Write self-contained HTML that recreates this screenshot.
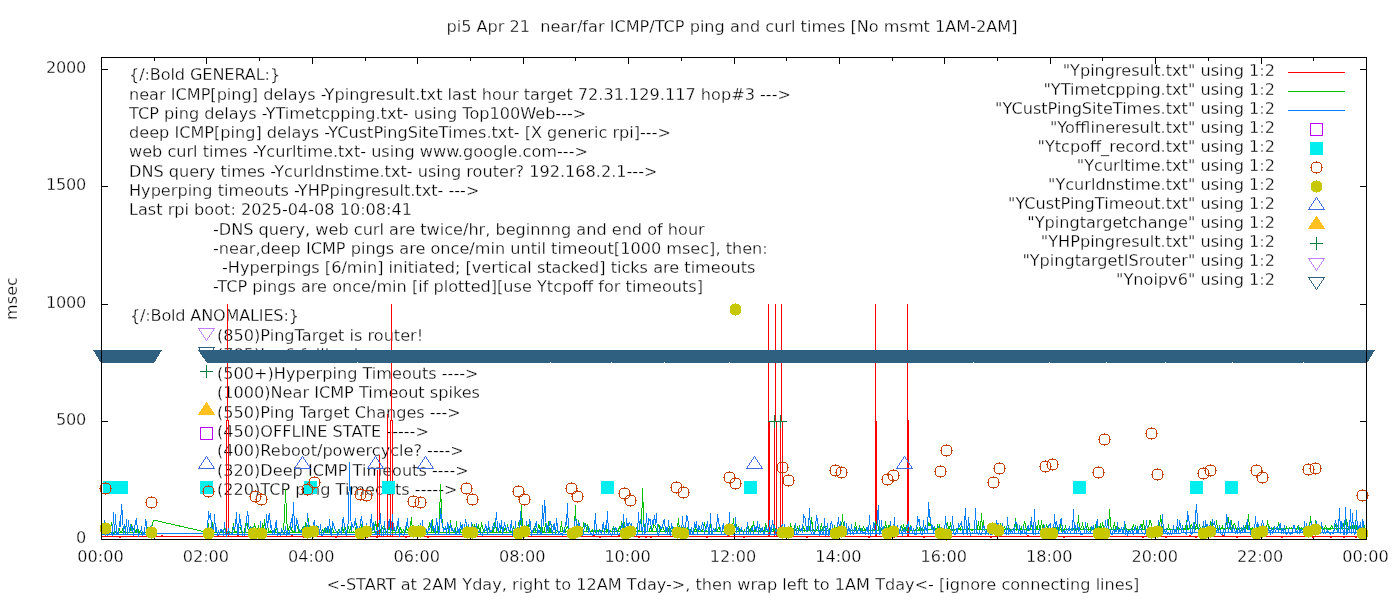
<!DOCTYPE html><html><head><meta charset="utf-8"><title>ping plot</title>
<style>html,body{margin:0;padding:0;background:#fff;overflow:hidden}svg{display:block}text{font-family:"DejaVu Sans","Liberation Sans",sans-serif;font-size:16.13px;fill:#000;stroke:#fff;stroke-width:0.3px}</style></head><body>
<svg width="1400" height="600" viewBox="0 0 1400 600">
<rect width="1400" height="600" fill="#fff"/>
<g id="labels">
<text x="129" y="80" letter-spacing="-0.11">{/:Bold GENERAL:}</text>
<text x="129" y="100">near ICMP[ping] delays -Ypingresult.txt last hour target 72.31.129.117 hop#3 ---&gt;</text>
<text x="129" y="119">TCP ping delays -YTimetcpping.txt- using Top100Web---&gt;</text>
<text x="129" y="138">deep ICMP[ping] delays -YCustPingSiteTimes.txt- [X generic rpi]---&gt;</text>
<text x="129" y="157">web curl times -Ycurltime.txt- using www.google.com---&gt;</text>
<text x="129" y="177">DNS query times -Ycurldnstime.txt- using router? 192.168.2.1---&gt;</text>
<text x="129" y="196">Hyperping timeouts -YHPpingresult.txt- ---&gt;</text>
<text x="129" y="215">Last rpi boot: 2025-04-08 10:08:41</text>
<text x="213" y="235">-DNS query, web curl are twice/hr, beginnng and end of hour</text>
<text x="213" y="254">-near,deep ICMP pings are once/min until timeout[1000 msec], then:</text>
<text x="222" y="273">-Hyperpings [6/min] initiated; [vertical stacked] ticks are timeouts</text>
<text x="213" y="292">-TCP pings are once/min [if plotted][use Ytcpoff for timeouts]</text>
<text x="130" y="321" letter-spacing="-0.19">{/:Bold ANOMALIES:}</text>
<text x="217" y="341">(850)PingTarget is router!</text>
<text x="217" y="360">(785)Ipv6 fallback</text>
<text x="217" y="379">(500+)Hyperping Timeouts ----&gt;</text>
<text x="217" y="398">(1000)Near ICMP Timeout spikes</text>
<text x="217" y="418">(550)Ping Target Changes ---&gt;</text>
<text x="217" y="437">(450)OFFLINE STATE -----&gt;</text>
<text x="217" y="456">(400)Reboot/powercycle? ----&gt;</text>
<text x="217" y="476">(320)Deep ICMP Timeouts ----&gt;</text>
<text x="217" y="495">(220)TCP ping Timeouts -----&gt;</text>
<g stroke-width="1" shape-rendering="crispEdges"><path d="M206.5 340.5L214.5 328.5L198.5 328.5Z" fill="none" stroke="#c080ff"/><path d="M206.5 359.5L214.5 347.5L198.5 347.5Z" fill="none" stroke="#306080"/><path d="M200.0 371.5h13M206.5 365.0v13" fill="none" stroke="#008040"/><path d="M206.5 402.5L214.5 414.5L198.5 414.5Z" fill="#ffc020" stroke="#ffc020"/><rect x="200.5" y="427.5" width="12" height="12" fill="none" stroke="#c000ff"/><path d="M206.5 456.5L214.5 468.5L198.5 468.5Z" fill="none" stroke="#4169e1"/><rect x="200.0" y="481.0" width="13" height="13" fill="#00eeee"/></g>
</g>
<text x="732" y="32" text-anchor="middle" xml:space="preserve">pi5 Apr 21  near/far ICMP/TCP ping and curl times [No msmt 1AM-2AM]</text>
<text x="733" y="590" text-anchor="middle">&lt;-START at 2AM Yday, right to 12AM Tday-&gt;, then wrap left to 1AM Tday&lt;- [ignore connecting lines]</text>
<text transform="translate(17,298.5) rotate(-90)" text-anchor="middle">msec</text>
<g stroke="#000" stroke-width="1" shape-rendering="crispEdges" fill="none">
<path d="M101 539.5h7M1367 539.5h-7"/>
<path d="M101 421.5h7M1367 421.5h-7"/>
<path d="M101 304.5h7M1367 304.5h-7"/>
<path d="M101 186.5h7M1367 186.5h-7"/>
<path d="M101 69.5h7M1367 69.5h-7"/>
<path d="M101.5 540v-7M101.5 57v7"/>
<path d="M154.5 540v-4M154.5 57v4"/>
<path d="M206.5 540v-7M206.5 57v7"/>
<path d="M259.5 540v-4M259.5 57v4"/>
<path d="M312.5 540v-7M312.5 57v7"/>
<path d="M365.5 540v-4M365.5 57v4"/>
<path d="M417.5 540v-7M417.5 57v7"/>
<path d="M470.5 540v-4M470.5 57v4"/>
<path d="M523.5 540v-7M523.5 57v7"/>
<path d="M575.5 540v-4M575.5 57v4"/>
<path d="M628.5 540v-7M628.5 57v7"/>
<path d="M681.5 540v-4M681.5 57v4"/>
<path d="M734.5 540v-7M734.5 57v7"/>
<path d="M786.5 540v-4M786.5 57v4"/>
<path d="M839.5 540v-7M839.5 57v7"/>
<path d="M892.5 540v-4M892.5 57v4"/>
<path d="M944.5 540v-7M944.5 57v7"/>
<path d="M997.5 540v-4M997.5 57v4"/>
<path d="M1050.5 540v-7M1050.5 57v7"/>
<path d="M1102.5 540v-4M1102.5 57v4"/>
<path d="M1155.5 540v-7M1155.5 57v7"/>
<path d="M1208.5 540v-4M1208.5 57v4"/>
<path d="M1261.5 540v-7M1261.5 57v7"/>
<path d="M1313.5 540v-4M1313.5 57v4"/>
<path d="M1366.5 540v-7M1366.5 57v7"/>
</g>
<text x="86" y="543" text-anchor="end" letter-spacing="-0.26">0</text>
<text x="86" y="425" text-anchor="end" letter-spacing="-0.26">500</text>
<text x="86" y="308" text-anchor="end" letter-spacing="-0.26">1000</text>
<text x="86" y="190" text-anchor="end" letter-spacing="-0.26">1500</text>
<text x="86" y="73" text-anchor="end" letter-spacing="-0.26">2000</text>
<text x="100.5" y="562" text-anchor="middle">00:00</text>
<text x="205.9" y="562" text-anchor="middle">02:00</text>
<text x="311.3" y="562" text-anchor="middle">04:00</text>
<text x="416.8" y="562" text-anchor="middle">06:00</text>
<text x="522.2" y="562" text-anchor="middle">08:00</text>
<text x="627.6" y="562" text-anchor="middle">10:00</text>
<text x="733.0" y="562" text-anchor="middle">12:00</text>
<text x="838.4" y="562" text-anchor="middle">14:00</text>
<text x="943.8" y="562" text-anchor="middle">16:00</text>
<text x="1049.2" y="562" text-anchor="middle">18:00</text>
<text x="1154.7" y="562" text-anchor="middle">20:00</text>
<text x="1260.1" y="562" text-anchor="middle">22:00</text>
<text x="1365.5" y="562" text-anchor="middle">00:00</text>
<g shape-rendering="crispEdges" fill="none" stroke-width="1">
<path d="M102 536.5H112H119v1h1v-1H138H143H161v-1h1v1H171H189H209v1h1v-1H217v-1h1v1H237v-1h1v1H262H270H291v-1h1v1H303v1h1v-1H319H335v1h1v-1H353H360H366v1h1v-1H376v1h1v-1H393H405v1h1v-1H427v1h1v-1H444H457H460H482H490H503H524H549H572H593v-1h1v1H599v1h1v-1H618v-1h1v1H635H638v1h1v-1H645v1h1v-1H650v1h1v-1H664H675H679v-1h1v1H686H690H706v1h1v-1H714H727v-1h1v1H743v1h1v-1H759H781H787H806v1h1v-1H832v1h1v-1H849H868v1h1v-1H872H893v1h1v-1H916H923v1h1v-1H937v1h1v-1H952H963H966H990v1h1v-1H1002H1014H1027v-1h1v1H1041H1063v1h1v-1H1070H1073H1097H1109H1132H1142v1h1v-1H1159H1165v1h1v-1H1179H1189v-1h1v1H1195v1h1v-1H1205H1222v-1h1v1H1227H1236v1h1v-1H1245H1258H1281v1h1v-1H1296H1312v1h1v-1H1330v1h1v-1H1343v1h1v-1H1348H1355v1h1v-1H1366" stroke="#ff0000"/>
<path d="M227.5 304V421M226.5 420V537M228.5 420V537M379.5 455V537M377.5 470V537M387.5 414V537M391.5 304V421M390.5 420V537M392.5 420V537M768.5 304V537M769.5 421V537M775.5 304V422M774.5 421V537M776.5 421V537M781.5 304V422M780.5 421V537M782.5 421V537M875.5 304V537M876.5 421V537M907.5 304V537M908.5 420V537" stroke="#ff0000"/>
<path d="M101.5 533.18L102.5 531.62L103.5 532.87L104.5 532.67L105.5 532.77L106.5 533.25L107.5 532.21L108.5 533.05L109.5 527.28L110.5 530L111.5 522.12L112.5 530.52L113.5 533.19L114.5 532.2L115.5 532.53L116.5 530.1L117.5 533.25L118.5 533.05L119.5 529.82L120.5 532.51L121.5 532.91L122.5 528.47L123.5 532.51L124.5 532.09L125.5 530.49L126.5 521.77L127.5 532.25L128.5 532.62L129.5 532.36L130.5 529.07L131.5 525.48L132.5 528.95L133.5 529.63L134.5 527.22L135.5 532.35L136.5 532.3L137.5 526.97L138.5 530.47L139.5 532.33L140.5 532.62L141.5 533.11L142.5 532.18L143.5 532.92L144.5 532.03L145.5 532.63L146.5 532.01L147.5 527.58L148.5 532.66L149.5 532L150.5 526.19L151.5 532.91L151.5 527.5L153.5 520.5L155.5 520.5L203.5 531.5L206.5 532.5L207.5 532.28L208.5 523.48L209.5 532.2L210.5 531.39L211.5 523.05L212.5 522.97L213.5 532.49L214.5 532.16L215.5 532.96L216.5 532.82L217.5 532.97L218.5 532.83L219.5 532.53L220.5 531.8L221.5 530.89L222.5 532.54L223.5 532.85L224.5 526.71L225.5 532.34L226.5 532.87L227.5 532.64L228.5 530.81L229.5 531.67L230.5 532.8L231.5 532.97L232.5 531.62L233.5 523.38L234.5 532.48L235.5 531.9L236.5 531.89L237.5 532.67L238.5 526.71L239.5 527.59L240.5 527.92L241.5 532.24L242.5 532.93L243.5 532.57L244.5 531.99L245.5 524.52L246.5 521.97L247.5 524.9L248.5 532.63L249.5 532.66L250.5 527.09L251.5 529.17L252.5 527.58L253.5 532.01L254.5 522.91L255.5 529.16L256.5 531.82L257.5 531.8L258.5 524.72L259.5 531.59L260.5 530.67L261.5 532.7L262.5 522.78L263.5 531.74L264.5 519.08L265.5 532.13L266.5 532.88L267.5 523.5L268.5 531.58L269.5 531.66L270.5 530.44L271.5 532.47L272.5 532.05L273.5 532.29L274.5 531.59L275.5 532.23L276.5 527L277.5 531.57L278.5 532.11L279.5 532.83L280.5 532.6L281.5 531.73L282.5 532.18L283.5 528.69L284.5 518.35L285.5 489.21L286.5 516L287.5 532.45L288.5 528.92L289.5 527.67L290.5 524.4L291.5 528.92L292.5 531.85L293.5 532.07L294.5 531.49L295.5 527.08L296.5 525.25L297.5 526.74L298.5 530.72L299.5 532.18L300.5 532.46L301.5 531.85L302.5 526.96L303.5 531.78L304.5 530.67L305.5 521.89L306.5 531.44L307.5 532.09L308.5 518.21L309.5 532.16L310.5 532.29L311.5 532.32L312.5 531.26L313.5 529.18L314.5 532.29L315.5 528.82L316.5 531.36L317.5 526.54L318.5 532.37L319.5 531.64L320.5 532.56L321.5 531.45L322.5 530.05L323.5 531.43L324.5 527.86L325.5 532.64L326.5 529.21L327.5 531.4L328.5 527.35L329.5 531.51L330.5 531.49L331.5 532.23L332.5 526.72L333.5 532.52L334.5 532.36L335.5 532.47L336.5 532.41L337.5 532.26L338.5 529.84L339.5 532.43L340.5 532.65L341.5 532.66L342.5 528.54L343.5 532L344.5 525.82L345.5 529.12L346.5 531.48L347.5 531.94L348.5 526.4L349.5 531.48L350.5 528.1L351.5 532.16L352.5 532.46L353.5 531.6L354.5 532.41L355.5 531.45L356.5 523.14L357.5 532.29L358.5 531.98L359.5 531.99L360.5 531.26L361.5 523.7L362.5 531.25L363.5 532.11L364.5 532.07L365.5 531.9L366.5 531.89L367.5 532.23L368.5 532.03L369.5 532.56L370.5 532.26L371.5 528.57L372.5 527.93L373.5 526.83L374.5 532.12L375.5 520.9L376.5 527.99L377.5 531.39L378.5 523.27L379.5 527.15L380.5 531.82L381.5 531.38L382.5 527.07L383.5 526.74L384.5 527.72L385.5 532.5L386.5 532.03L387.5 531.36L388.5 528.03L389.5 527.76L390.5 532.53L391.5 527.43L392.5 531.77L393.5 530.79L394.5 529.86L395.5 532.14L396.5 530.09L397.5 526.28L398.5 531.97L399.5 531.54L400.5 528.05L401.5 530.71L402.5 532.14L403.5 529.58L404.5 531.02L405.5 532.11L406.5 527.66L407.5 529.64L408.5 531.82L409.5 532.31L410.5 525.19L411.5 517.46L412.5 531.82L413.5 526.28L414.5 532.08L415.5 531.12L416.5 531.63L417.5 531.71L418.5 525.48L419.5 528.52L420.5 522.79L421.5 531.17L422.5 532.4L423.5 531.74L424.5 532L425.5 531.94L426.5 531.24L427.5 531.36L428.5 530.42L429.5 522.72L430.5 524.7L431.5 531.86L432.5 518.87L433.5 531.8L434.5 532.33L435.5 531.22L436.5 531.08L437.5 532.02L438.5 532.12L439.5 520.7L440.5 483.57L441.5 513.65L442.5 523.45L443.5 530.72L444.5 528.74L445.5 527.78L446.5 532.3L447.5 525.42L448.5 531.87L449.5 531.31L450.5 520.21L451.5 529.46L452.5 528.99L453.5 532.12L454.5 531.06L455.5 532.03L456.5 521.31L457.5 532.14L458.5 532.2L459.5 532.2L460.5 531.96L461.5 526.53L462.5 528.87L463.5 531.57L464.5 531.83L465.5 531.92L466.5 525.37L467.5 531.41L468.5 524.94L469.5 531.95L470.5 531.66L471.5 521.96L472.5 525.84L473.5 531.28L474.5 523.71L475.5 530.87L476.5 530.97L477.5 526.64L478.5 524.76L479.5 532.05L480.5 531.3L481.5 522.52L482.5 527.07L483.5 531.48L484.5 531.15L485.5 530.95L486.5 529.34L487.5 531.89L488.5 527.38L489.5 532.14L490.5 531.41L491.5 531.92L492.5 530.77L493.5 531.58L494.5 522.85L495.5 523.64L496.5 531.87L497.5 522.56L498.5 532.18L499.5 531.26L500.5 531.84L501.5 526.23L502.5 532.15L503.5 531.6L504.5 529.8L505.5 527.13L506.5 531.9L507.5 524.37L508.5 529.63L509.5 531.11L510.5 530.83L511.5 531.91L512.5 531.58L513.5 526.07L514.5 531.61L515.5 530.79L516.5 532.08L517.5 531.6L518.5 521.65L519.5 525.81L520.5 524.25L521.5 505.43L522.5 530.57L523.5 528.86L524.5 531.67L525.5 532.13L526.5 531.63L527.5 525.2L528.5 524.8L529.5 530.96L530.5 528.57L531.5 531.44L532.5 530.81L533.5 531.59L534.5 525.62L535.5 530.96L536.5 530.49L537.5 532.01L538.5 524.54L539.5 526.24L540.5 531.7L541.5 522.84L542.5 531.07L543.5 531.69L544.5 531.01L545.5 522.75L546.5 525.61L547.5 531.39L548.5 521.23L549.5 531.7L550.5 531.36L551.5 524.85L552.5 527L553.5 526.82L554.5 529.02L555.5 531.53L556.5 530.24L557.5 530.97L558.5 531.94L559.5 531.25L560.5 530.64L561.5 521.03L562.5 531.9L563.5 531.31L564.5 528.4L565.5 531.42L566.5 527.27L567.5 526.42L568.5 529.99L569.5 529.14L570.5 528.75L571.5 529.6L572.5 531.64L573.5 530.74L574.5 528.96L575.5 504.95L576.5 531.65L577.5 527.34L578.5 520.49L579.5 530.81L580.5 526.04L581.5 531.55L582.5 531.69L583.5 522.87L584.5 523.86L585.5 523.5L586.5 530.85L587.5 525.1L588.5 527.47L589.5 531.42L590.5 531.65L591.5 531.09L592.5 529.52L593.5 531.47L594.5 529.6L595.5 531.63L596.5 527.8L597.5 531.77L598.5 531.14L599.5 530.05L600.5 530.93L601.5 531.5L602.5 530.56L603.5 531.1L604.5 531.31L605.5 525.56L606.5 531.61L607.5 529.47L608.5 530.61L609.5 530.72L610.5 530.63L611.5 531.64L612.5 531.09L613.5 525.97L614.5 530.99L615.5 531.15L616.5 531.46L617.5 530.55L618.5 531.16L619.5 525.67L620.5 531.67L621.5 520.91L622.5 531.77L623.5 523.67L624.5 522.57L625.5 529.63L626.5 529.32L627.5 530.63L628.5 529.51L629.5 531.26L630.5 531.28L631.5 531.47L632.5 525.97L633.5 531.02L634.5 530.21L635.5 529.81L636.5 527.68L637.5 528.88L638.5 530.97L639.5 530.86L640.5 531.17L641.5 530.91L642.5 487.56L643.5 516L644.5 531.52L645.5 531.62L646.5 531.16L647.5 531.14L648.5 531.71L649.5 529.95L650.5 526.51L651.5 531.68L652.5 531.22L653.5 524.76L654.5 525.42L655.5 526.31L656.5 530.36L657.5 530.39L658.5 524.61L659.5 525.73L660.5 531.23L661.5 529.53L662.5 524.09L663.5 529.6L664.5 530.42L665.5 531.34L666.5 531.26L667.5 531.45L668.5 530.38L669.5 525.87L670.5 530.59L671.5 530.95L672.5 528.51L673.5 527.54L674.5 530.44L675.5 530.28L676.5 528.33L677.5 528.96L678.5 518.19L679.5 530.59L680.5 531.42L681.5 530.02L682.5 529L683.5 525.39L684.5 530.72L685.5 531.65L686.5 531.44L687.5 528.11L688.5 530.38L689.5 531.32L690.5 530.12L691.5 531.14L692.5 531.13L693.5 530.81L694.5 531.34L695.5 527.87L696.5 530.3L697.5 531.41L698.5 530.72L699.5 526.34L700.5 531.24L701.5 530.7L702.5 531.11L703.5 528L704.5 521.81L705.5 530.32L706.5 530.84L707.5 531.25L708.5 530.49L709.5 530.81L710.5 524.57L711.5 530.72L712.5 530.67L713.5 529.3L714.5 531.14L715.5 530.31L716.5 526.62L717.5 530.37L718.5 527.85L719.5 527.91L720.5 531.4L721.5 531.49L722.5 530.49L723.5 525.96L724.5 528.82L725.5 530.92L726.5 527.54L727.5 530.62L728.5 524.16L729.5 530.04L730.5 531.19L731.5 525.45L732.5 528.49L733.5 518.12L734.5 530.23L735.5 526.68L736.5 525.26L737.5 530.32L738.5 525.85L739.5 530.47L740.5 531.06L741.5 530.61L742.5 530.2L743.5 531.44L744.5 530.17L745.5 531.28L746.5 531.41L747.5 526.93L748.5 526.42L749.5 530.63L750.5 530.31L751.5 525.65L752.5 530.23L753.5 520.67L754.5 531.16L755.5 531.4L756.5 526.03L757.5 525.96L758.5 528.61L759.5 531.3L760.5 529.01L761.5 530.83L762.5 531.06L763.5 530.41L764.5 530.97L765.5 522.7L766.5 526.95L767.5 530.83L768.5 530.32L769.5 530.41L770.5 531.1L771.5 529.54L772.5 529.14L773.5 531.11L774.5 525.15L775.5 530.69L776.5 530.26L777.5 530.68L778.5 530.2L779.5 530.04L780.5 531.07L781.5 527.5L782.5 530.47L783.5 530.25L784.5 526.07L785.5 528.19L786.5 530.8L787.5 529.52L788.5 529.81L789.5 530.97L790.5 522.64L791.5 530.09L792.5 530.69L793.5 530.27L794.5 526.73L795.5 530.87L796.5 530.14L797.5 526.25L798.5 530.7L799.5 527.05L800.5 530.66L801.5 528.73L802.5 530.88L803.5 525.73L804.5 531.08L805.5 530.84L806.5 531.07L807.5 531.02L808.5 521.52L809.5 529.93L810.5 530.74L811.5 516.87L812.5 527.72L813.5 530.37L814.5 530.98L815.5 531.22L816.5 530.15L817.5 527.38L818.5 530.61L819.5 530.4L820.5 530.21L821.5 522.88L822.5 530.19L823.5 530.92L824.5 525.49L825.5 526.37L826.5 526.47L827.5 527.58L828.5 530.34L829.5 530.63L830.5 526.29L831.5 530.87L832.5 530.58L833.5 530.64L834.5 525.21L835.5 530.29L836.5 527.88L837.5 529.83L838.5 530.43L839.5 530.09L840.5 522.41L841.5 530.38L842.5 513.65L843.5 530.28L844.5 527.2L845.5 529.84L846.5 530.21L847.5 530.1L848.5 529.78L849.5 531.09L850.5 530.6L851.5 530.57L852.5 530.17L853.5 530.78L854.5 530.11L855.5 522.33L856.5 530.02L857.5 530.84L858.5 530.04L859.5 526.6L860.5 530.34L861.5 529.77L862.5 530.23L863.5 525.69L864.5 530.71L865.5 530.94L866.5 527.96L867.5 528.38L868.5 530.75L869.5 530.85L870.5 530.09L871.5 530.76L872.5 530.42L873.5 530.2L874.5 527.89L875.5 520.73L876.5 529.92L877.5 521.05L878.5 529.91L879.5 531.06L880.5 529.73L881.5 528.43L882.5 530.87L883.5 529.97L884.5 530.85L885.5 520.99L886.5 529.8L887.5 529.95L888.5 525.23L889.5 525.5L890.5 530.07L891.5 530L892.5 529.79L893.5 530.66L894.5 530.84L895.5 530.95L896.5 530.82L897.5 530.32L898.5 529.8L899.5 529.83L900.5 530.22L901.5 525.45L902.5 530.42L903.5 524.31L904.5 530.11L905.5 530.14L906.5 524.99L907.5 529.61L908.5 530.31L909.5 529.41L910.5 526.49L911.5 529.77L912.5 530.31L913.5 529.89L914.5 530.36L915.5 530.19L916.5 528.11L917.5 527.56L918.5 530.58L919.5 529.58L920.5 525.64L921.5 530.51L922.5 530.12L923.5 529.84L924.5 529.92L925.5 526.84L926.5 530.51L927.5 530.67L928.5 521.73L929.5 525.63L930.5 521.71L931.5 530.04L932.5 526.57L933.5 528.46L934.5 527.24L935.5 529L936.5 530.86L937.5 524.98L938.5 527.67L939.5 525.61L940.5 530.53L941.5 530.3L942.5 530.28L943.5 529.57L944.5 530.08L945.5 530.71L946.5 526.63L947.5 522.43L948.5 530.33L949.5 529.55L950.5 522.29L951.5 530.72L952.5 530.56L953.5 530.84L954.5 529.89L955.5 529.49L956.5 529.62L957.5 530.82L958.5 528.24L959.5 528.5L960.5 529.75L961.5 525.2L962.5 529L963.5 529.83L964.5 529.51L965.5 529.46L966.5 529.35L967.5 529.9L968.5 529.01L969.5 529.78L970.5 529.59L971.5 530.72L972.5 529.99L973.5 529.84L974.5 529.67L975.5 529.88L976.5 530.2L977.5 529.68L978.5 520.75L979.5 530.37L980.5 529.4L981.5 513.18L982.5 529.92L983.5 520.52L984.5 530.33L985.5 529.51L986.5 529.79L987.5 529.49L988.5 527.95L989.5 530.38L990.5 529.92L991.5 524.96L992.5 529.57L993.5 525.05L994.5 530.35L995.5 525.34L996.5 524.81L997.5 530.61L998.5 529.6L999.5 529.66L1000.5 523.27L1001.5 529.76L1002.5 530.42L1003.5 529.65L1004.5 527.03L1005.5 529.57L1006.5 528.14L1007.5 529.43L1008.5 526.71L1009.5 529.86L1010.5 530.42L1011.5 529.7L1012.5 529.89L1013.5 529.95L1014.5 530.61L1015.5 518.05L1016.5 529.78L1017.5 528.49L1018.5 530.18L1019.5 530.63L1020.5 529.26L1021.5 526.85L1022.5 530.28L1023.5 527.14L1024.5 520.7L1025.5 524.48L1026.5 530.59L1027.5 530.38L1028.5 530.56L1029.5 529.4L1030.5 529.29L1031.5 523.98L1032.5 530.06L1033.5 529.27L1034.5 529.82L1035.5 529.27L1036.5 527.26L1037.5 530.38L1038.5 519.6L1039.5 530.55L1040.5 530.1L1041.5 520L1042.5 528.95L1043.5 525.68L1044.5 529.2L1045.5 530.38L1046.5 524.54L1047.5 527.69L1048.5 529.51L1049.5 530.12L1050.5 530.39L1051.5 530.33L1052.5 530.36L1053.5 529.09L1054.5 528.18L1055.5 529.25L1056.5 529.23L1057.5 524.75L1058.5 529.91L1059.5 529.23L1060.5 526.03L1061.5 530.06L1062.5 526.77L1063.5 530.33L1064.5 530.45L1065.5 526.38L1066.5 529.29L1067.5 529.94L1068.5 530.13L1069.5 527.45L1070.5 529.82L1071.5 529.23L1072.5 529.12L1073.5 529.24L1074.5 528.05L1075.5 530.09L1076.5 530.21L1077.5 529.09L1078.5 515.53L1079.5 530.07L1080.5 528.79L1081.5 527.62L1082.5 524.05L1083.5 527.38L1084.5 530.47L1085.5 526.46L1086.5 529.85L1087.5 523.09L1088.5 530.26L1089.5 529.37L1090.5 528.07L1091.5 530.32L1092.5 529.75L1093.5 530.15L1094.5 529.44L1095.5 526.15L1096.5 530.34L1097.5 527.01L1098.5 528.74L1099.5 527.36L1100.5 524.74L1101.5 530.4L1102.5 521.83L1103.5 527.69L1104.5 529.24L1105.5 530.18L1106.5 529.56L1107.5 529.67L1108.5 529.67L1109.5 508.95L1110.5 524.71L1111.5 529.39L1112.5 529.33L1113.5 529.15L1114.5 521.71L1115.5 529.63L1116.5 530.34L1117.5 522.97L1118.5 530.22L1119.5 529.21L1120.5 530.23L1121.5 527.99L1122.5 529.51L1123.5 529.61L1124.5 528.43L1125.5 525.4L1126.5 530.17L1127.5 529.63L1128.5 530.17L1129.5 530.14L1130.5 529.12L1131.5 529.52L1132.5 528.1L1133.5 524.29L1134.5 529.73L1135.5 526.31L1136.5 528.99L1137.5 527.23L1138.5 529.84L1139.5 528.92L1140.5 524.39L1141.5 524.71L1142.5 529.57L1143.5 519.56L1144.5 529.69L1145.5 529.77L1146.5 530.19L1147.5 529.57L1148.5 530.08L1149.5 520.28L1150.5 520.95L1151.5 524.49L1152.5 528.69L1153.5 529.89L1154.5 527.5L1155.5 528.95L1156.5 529.9L1157.5 529.64L1158.5 522.55L1159.5 529.33L1160.5 515.53L1161.5 521.48L1162.5 529.58L1163.5 530.02L1164.5 530.05L1165.5 529.65L1166.5 529.88L1167.5 529.45L1168.5 525.8L1169.5 529.3L1170.5 529.21L1171.5 529.44L1172.5 529.55L1173.5 529.86L1174.5 529.48L1175.5 529.37L1176.5 529.7L1177.5 527.6L1178.5 529.5L1179.5 528.79L1180.5 529.09L1181.5 530.09L1182.5 526.6L1183.5 529.63L1184.5 529.13L1185.5 529.85L1186.5 520.35L1187.5 529.69L1188.5 529.21L1189.5 528.96L1190.5 526.19L1191.5 525.07L1192.5 526.39L1193.5 525.24L1194.5 523.2L1195.5 528.71L1196.5 525.83L1197.5 528.77L1198.5 529.54L1199.5 524.41L1200.5 529.59L1201.5 529.47L1202.5 527.26L1203.5 529.33L1204.5 529.66L1205.5 524.51L1206.5 529.48L1207.5 529.67L1208.5 529.29L1209.5 529.97L1210.5 522.23L1211.5 524.54L1212.5 522.78L1213.5 528.8L1214.5 530.01L1215.5 529.38L1216.5 520.1L1217.5 528.67L1218.5 529.34L1219.5 526.73L1220.5 529.23L1221.5 528.72L1222.5 526.06L1223.5 529.53L1224.5 529.26L1225.5 528.81L1226.5 521.41L1227.5 529.16L1228.5 517.54L1229.5 528.89L1230.5 529.59L1231.5 519.8L1232.5 529.87L1233.5 525.21L1234.5 523.73L1235.5 526.53L1236.5 529.61L1237.5 529.3L1238.5 529.75L1239.5 529.16L1240.5 528.6L1241.5 529.94L1242.5 528.89L1243.5 529.02L1244.5 529.56L1245.5 525.69L1246.5 527.61L1247.5 529.2L1248.5 514.36L1249.5 528.57L1250.5 529.4L1251.5 529.75L1252.5 528.03L1253.5 529.73L1254.5 528.8L1255.5 528.82L1256.5 529.94L1257.5 526.95L1258.5 526.79L1259.5 529.57L1260.5 528.67L1261.5 529.45L1262.5 529.4L1263.5 528.68L1264.5 528.58L1265.5 529.06L1266.5 529.87L1267.5 519.56L1268.5 528.65L1269.5 527.01L1270.5 528.56L1271.5 528.57L1272.5 529.36L1273.5 527.4L1274.5 528.67L1275.5 528.78L1276.5 529.65L1277.5 529.63L1278.5 522.18L1279.5 529.73L1280.5 529.34L1281.5 529.79L1282.5 528.72L1283.5 529.53L1284.5 529.47L1285.5 529.82L1286.5 526.77L1287.5 528.87L1288.5 529.48L1289.5 527.82L1290.5 528.68L1291.5 527.66L1292.5 528.83L1293.5 528.5L1294.5 528.5L1295.5 529.52L1296.5 529.65L1297.5 527.14L1298.5 525.52L1299.5 529.48L1300.5 529.53L1301.5 527.81L1302.5 529.06L1303.5 528.73L1304.5 528.89L1305.5 529.37L1306.5 529.69L1307.5 528.61L1308.5 528.87L1309.5 529.01L1310.5 516L1311.5 529.7L1312.5 529.47L1313.5 528.78L1314.5 529.22L1315.5 519.79L1316.5 524.12L1317.5 529.39L1318.5 528.81L1319.5 526.63L1320.5 528.84L1321.5 527.13L1322.5 526.61L1323.5 529.5L1324.5 528.47L1325.5 524.83L1326.5 529.69L1327.5 529.47L1328.5 529.21L1329.5 529.3L1330.5 529.48L1331.5 525.51L1332.5 527.06L1333.5 528.76L1334.5 529.72L1335.5 524.48L1336.5 529.66L1337.5 525.31L1338.5 529.37L1339.5 528.59L1340.5 528.42L1341.5 527.87L1342.5 526.35L1343.5 524.2L1344.5 529.57L1345.5 521.35L1346.5 520.09L1347.5 524.18L1348.5 529.05L1349.5 528.7L1350.5 528.96L1351.5 522.73L1352.5 528.05L1353.5 524.28L1354.5 528.9L1355.5 520.32L1356.5 529.31L1357.5 529.15L1358.5 529.37L1359.5 529.46L1360.5 524.93L1361.5 529.3L1362.5 529.01L1363.5 521.64L1364.5 528.39L1365.5 528.84L1366.5 528.48" stroke="#00c000"/>
<path d="M101 532.5H151M207 532.5H420L700 531.5L1000 529.5L1366 528.5" stroke="#00c000"/>
<path d="M101.5 528.2L102.5 534.8L103.5 530.52L104.5 519.69L105.5 535.59L106.5 532.49L107.5 535.61L108.5 534.72L109.5 533.21L110.5 530.45L111.5 532.78L112.5 536.17L113.5 512.34L114.5 534.67L115.5 513.83L116.5 535.15L117.5 532.6L118.5 534.01L119.5 521.16L120.5 526.81L121.5 504.25L122.5 516L123.5 534.54L124.5 523.94L125.5 534.82L126.5 518.9L127.5 534.51L128.5 520.37L129.5 532.62L130.5 523.74L131.5 529.78L132.5 527.6L133.5 536.08L134.5 529.17L135.5 520.65L136.5 518.74L137.5 530.17L138.5 535.52L139.5 533.42L140.5 532.77L141.5 526.51L142.5 536.06L143.5 532.55L144.5 534.01L145.5 519.44L146.5 522.87L147.5 534.74L148.5 530.76L149.5 530.62L150.5 527.62L151.5 524.95L152.5 535.2L153.5 531.32L153.5 533.5L206.5 533.5L207.5 530.37L208.5 510.93L209.5 518.39L210.5 513.24L211.5 525.7L212.5 529.21L213.5 534.84L214.5 514.34L215.5 531.6L216.5 527.06L217.5 535.64L218.5 530.45L219.5 534.64L220.5 529.41L221.5 529.81L222.5 530.84L223.5 535.65L224.5 521.78L225.5 534.2L226.5 535.82L227.5 531.96L228.5 529.61L229.5 534.81L230.5 534.93L231.5 533.28L232.5 533.33L233.5 527.2L234.5 528.36L235.5 525.23L236.5 512.38L237.5 534.25L238.5 532.56L239.5 513.65L240.5 525.04L241.5 525.67L242.5 535.21L243.5 534.74L244.5 535.36L245.5 530.58L246.5 521.16L247.5 511.54L248.5 519.16L249.5 534.41L250.5 527.95L251.5 527.47L252.5 535.2L253.5 526.52L254.5 533.53L255.5 533.09L256.5 527.64L257.5 534.02L258.5 531.89L259.5 535.03L260.5 521.46L261.5 535.93L262.5 534.28L263.5 534.8L264.5 534.51L265.5 532.73L266.5 513.65L267.5 527.58L268.5 517.99L269.5 513.18L270.5 527.07L271.5 525.8L272.5 534.23L273.5 530.8L274.5 532.61L275.5 522.94L276.5 521.2L277.5 535.25L278.5 534.06L279.5 533.49L280.5 535.18L281.5 529.35L282.5 531.08L283.5 534.71L284.5 533.66L285.5 526.17L286.5 535.63L287.5 531.7L288.5 534.87L289.5 534.73L290.5 526.39L291.5 517.8L292.5 527.83L293.5 501.9L294.5 528.89L295.5 531.62L296.5 519.08L297.5 520.6L298.5 527.88L299.5 529.85L300.5 531.08L301.5 530.65L302.5 535.2L303.5 526.13L304.5 530.95L305.5 535.41L306.5 532.74L307.5 512.95L308.5 530.33L309.5 531.44L310.5 535.76L311.5 531.39L312.5 529.51L313.5 523.3L314.5 521.36L315.5 535.51L316.5 526.12L317.5 527.77L318.5 527.04L319.5 534.86L320.5 523.81L321.5 535.83L322.5 535.31L323.5 532.07L324.5 532.21L325.5 527.06L326.5 532.24L327.5 526.29L328.5 533.14L329.5 519.01L330.5 532.69L331.5 534.73L332.5 520.88L333.5 524.3L334.5 527.94L335.5 530.6L336.5 531.13L337.5 534.98L338.5 534.53L339.5 529.91L340.5 531.75L341.5 533.63L342.5 521.47L343.5 517.54L344.5 528.12L345.5 533.01L346.5 535.54L347.5 525.26L348.5 522.59L349.5 461.72L350.5 511.3L351.5 531.16L352.5 523.91L353.5 527.8L354.5 523.49L355.5 518.15L356.5 531.56L357.5 526.42L358.5 535.81L359.5 528.63L360.5 523.06L361.5 516.14L362.5 525.23L363.5 535.54L364.5 534.76L365.5 532.29L366.5 523.02L367.5 535.44L368.5 526.55L369.5 535.75L370.5 524L371.5 513.96L372.5 531.02L373.5 522.26L374.5 526.68L375.5 534.25L376.5 534.44L377.5 526.98L378.5 534.61L379.5 526.55L380.5 512.92L381.5 535.26L382.5 534.87L383.5 535.36L384.5 520.78L385.5 533.68L386.5 534.58L387.5 533.96L388.5 523.78L389.5 519.34L390.5 535.08L391.5 526.75L392.5 514.36L393.5 530.15L394.5 526.81L395.5 533.9L396.5 527.61L397.5 524.44L398.5 517.95L399.5 535.72L400.5 533.7L401.5 533.84L402.5 534.21L403.5 535.4L404.5 532.94L405.5 526.52L406.5 526.8L407.5 517.63L408.5 534.08L409.5 533.34L410.5 531.84L411.5 532.82L412.5 533.65L413.5 526.82L414.5 534.71L415.5 534.84L416.5 534.29L417.5 534.18L418.5 532.75L419.5 529.77L420.5 523.07L421.5 533.69L422.5 520.02L423.5 535.36L424.5 535.58L425.5 534.65L426.5 529.3L427.5 533.53L428.5 528.54L429.5 529.35L430.5 525.99L431.5 520.11L432.5 531.13L433.5 526.06L434.5 530.61L435.5 532.49L436.5 517.81L437.5 526.41L438.5 534.42L439.5 531.73L440.5 508.01L441.5 519.57L442.5 525.44L443.5 531.07L444.5 529.33L445.5 526.05L446.5 534.12L447.5 521.75L448.5 525.87L449.5 534.36L450.5 522.79L451.5 530.52L452.5 528.82L453.5 531.07L454.5 529.36L455.5 534.39L456.5 533.76L457.5 527.97L458.5 529.87L459.5 535.38L460.5 521.58L461.5 529.47L462.5 523.9L463.5 533.93L464.5 528.59L465.5 518.66L466.5 525.45L467.5 527.1L468.5 524.81L469.5 535.13L470.5 534.91L471.5 521.62L472.5 532.86L473.5 525.81L474.5 530.06L475.5 527.35L476.5 524.59L477.5 530.69L478.5 531.69L479.5 530.9L480.5 533.39L481.5 534.44L482.5 535.27L483.5 531.4L484.5 531.65L485.5 525.04L486.5 526.86L487.5 534.74L488.5 520.83L489.5 533.18L490.5 530.67L491.5 531.23L492.5 528.49L493.5 522.94L494.5 529.02L495.5 524.22L496.5 512.07L497.5 528.34L498.5 532.96L499.5 522.72L500.5 529.65L501.5 519.7L502.5 534.36L503.5 529.91L504.5 522.43L505.5 526.59L506.5 529.68L507.5 527.1L508.5 527.75L509.5 533.17L510.5 529.19L511.5 519.58L512.5 535.13L513.5 533.87L514.5 535.41L515.5 521.22L516.5 534.15L517.5 529.73L518.5 534.13L519.5 528.95L520.5 511.2L521.5 524.55L522.5 529.45L523.5 533.49L524.5 535.03L525.5 531.49L526.5 521.27L527.5 530.2L528.5 534.93L529.5 519.3L530.5 523.65L531.5 535.46L532.5 530.56L533.5 529.66L534.5 530.62L535.5 524.09L536.5 521.25L537.5 534.9L538.5 530.27L539.5 530.93L540.5 533.87L541.5 534.05L542.5 505.43L543.5 526.19L544.5 500.49L545.5 511.3L546.5 533.05L547.5 525.11L548.5 532.04L549.5 521.22L550.5 521.73L551.5 528.21L552.5 535.09L553.5 524.54L554.5 524.06L555.5 535.33L556.5 518.17L557.5 528.33L558.5 533.61L559.5 532.22L560.5 534.06L561.5 533.76L562.5 535.03L563.5 530.95L564.5 532.22L565.5 523.16L566.5 524.52L567.5 503.07L568.5 533.15L569.5 528.48L570.5 534.36L571.5 534.53L572.5 530.1L573.5 532.52L574.5 524.77L575.5 517.95L576.5 521.63L577.5 534.77L578.5 521.87L579.5 525.01L580.5 526.78L581.5 529.25L582.5 535.2L583.5 533.6L584.5 523.98L585.5 525.49L586.5 525.99L587.5 526.17L588.5 532.99L589.5 529.94L590.5 533.91L591.5 533.82L592.5 535.33L593.5 532.64L594.5 527.37L595.5 512.95L596.5 534.39L597.5 534.1L598.5 534.25L599.5 530.51L600.5 532.11L601.5 533.48L602.5 526.96L603.5 522.1L604.5 535.26L605.5 524.88L606.5 529.29L607.5 510.6L608.5 534.32L609.5 530.57L610.5 534.6L611.5 535.18L612.5 533.61L613.5 526.61L614.5 533.45L615.5 527.36L616.5 528.13L617.5 533.86L618.5 534.88L619.5 534.61L620.5 531.13L621.5 525.16L622.5 531.56L623.5 514.12L624.5 532.85L625.5 534.16L626.5 517.99L627.5 528.12L628.5 523.25L629.5 522.35L630.5 525.73L631.5 522.73L632.5 532.65L633.5 533.87L634.5 532.17L635.5 532.25L636.5 534.95L637.5 533.35L638.5 512.51L639.5 529.58L640.5 519.09L641.5 528.54L642.5 534.08L643.5 520.01L644.5 533.89L645.5 532.08L646.5 513.49L647.5 532.28L648.5 518.93L649.5 520.35L650.5 519.94L651.5 530.04L652.5 520.08L653.5 523.65L654.5 514.61L655.5 525L656.5 512.76L657.5 533.61L658.5 534.96L659.5 531.51L660.5 526.54L661.5 528L662.5 527.46L663.5 520.89L664.5 519.85L665.5 532.61L666.5 527.07L667.5 534.11L668.5 520.12L669.5 534.33L670.5 535.13L671.5 522.84L672.5 529.87L673.5 534.91L674.5 527.02L675.5 531.09L676.5 534.78L677.5 529.99L678.5 527.3L679.5 533.91L680.5 533.61L681.5 534.77L682.5 516.12L683.5 533.46L684.5 526.67L685.5 529.56L686.5 515.13L687.5 517.4L688.5 524.74L689.5 533.22L690.5 533.34L691.5 527.3L692.5 534.59L693.5 534.16L694.5 522.26L695.5 526.43L696.5 521.19L697.5 534L698.5 526.22L699.5 528.38L700.5 530.46L701.5 528.27L702.5 522.41L703.5 526.09L704.5 533.55L705.5 529.14L706.5 527.73L707.5 520.81L708.5 532.94L709.5 535.02L710.5 512.69L711.5 534.06L712.5 532.85L713.5 527.77L714.5 531.15L715.5 531.07L716.5 530.13L717.5 514.46L718.5 521.24L719.5 526.21L720.5 528.18L721.5 534.95L722.5 527.2L723.5 523.54L724.5 534.19L725.5 524.83L726.5 531.94L727.5 535.17L728.5 534.47L729.5 512.44L730.5 534.62L731.5 524.6L732.5 534.35L733.5 534.72L734.5 530.38L735.5 517.28L736.5 533.34L737.5 527.14L738.5 527.56L739.5 534.94L740.5 529.77L741.5 528.34L742.5 531.17L743.5 533.32L744.5 531.07L745.5 531.28L746.5 532.84L747.5 522.14L748.5 533.26L749.5 534.73L750.5 534.09L751.5 528.29L752.5 527.36L753.5 534.59L754.5 526.23L755.5 528.19L756.5 530.31L757.5 521.01L758.5 534.4L759.5 523.66L760.5 533.39L761.5 529.41L762.5 526.71L763.5 534.51L764.5 534.35L765.5 527.06L766.5 529.01L767.5 529.04L768.5 533.43L769.5 520.44L770.5 533.8L771.5 529.56L772.5 520.06L773.5 527.29L774.5 526.88L775.5 533.72L776.5 528.77L777.5 535.06L778.5 527.27L779.5 534.75L780.5 535L781.5 526.21L782.5 523.67L783.5 532.57L784.5 523.91L785.5 533.86L786.5 534.61L787.5 534.25L788.5 527.4L789.5 533.44L790.5 534.71L791.5 530.68L792.5 533.98L793.5 533.5L794.5 533.4L795.5 522.57L796.5 533.53L797.5 534.11L798.5 532.62L799.5 527.99L800.5 530.26L801.5 528.94L802.5 533.33L803.5 514.43L804.5 517.5L805.5 519.17L806.5 532.11L807.5 528.29L808.5 529.88L809.5 507.54L810.5 531.07L811.5 533.6L812.5 529.99L813.5 533.66L814.5 534.59L815.5 528.16L816.5 514.95L817.5 520.23L818.5 528.04L819.5 534.71L820.5 533.32L821.5 528.66L822.5 534.39L823.5 533.8L824.5 517.84L825.5 534.76L826.5 533.23L827.5 523.23L828.5 534.9L829.5 533.48L830.5 526.17L831.5 521.12L832.5 527.34L833.5 534.89L834.5 529.5L835.5 534.59L836.5 533.2L837.5 526.49L838.5 517.15L839.5 530.36L840.5 520.88L841.5 535.08L842.5 533.87L843.5 535.09L844.5 521.25L845.5 532.69L846.5 522.82L847.5 534.42L848.5 526.92L849.5 528.6L850.5 534.58L851.5 523.78L852.5 533.84L853.5 534.67L854.5 528.98L855.5 528.15L856.5 532.51L857.5 532.6L858.5 530.24L859.5 528.1L860.5 533.71L861.5 529.75L862.5 533.16L863.5 532.53L864.5 532.99L865.5 534.24L866.5 527.34L867.5 527.9L868.5 534.87L869.5 515.12L870.5 534.96L871.5 533.1L872.5 533.64L873.5 522.23L874.5 524.52L875.5 535.02L876.5 532.24L877.5 515.68L878.5 505.43L879.5 533.97L880.5 533.39L881.5 520.52L882.5 533.25L883.5 527.34L884.5 528.71L885.5 527.48L886.5 534.93L887.5 530.94L888.5 535.02L889.5 532.76L890.5 521.15L891.5 532.09L892.5 531.51L893.5 532.17L894.5 516.65L895.5 534.83L896.5 527.12L897.5 525.48L898.5 534.39L899.5 531.9L900.5 526.24L901.5 532.86L902.5 534.78L903.5 528.82L904.5 529.8L905.5 533.72L906.5 526.65L907.5 527.47L908.5 520.97L909.5 532.69L910.5 527.1L911.5 526.91L912.5 533.01L913.5 528.07L914.5 534.37L915.5 534.31L916.5 534.06L917.5 515.96L918.5 521.41L919.5 519.99L920.5 531.01L921.5 534.12L922.5 534.5L923.5 520.43L924.5 533.36L925.5 526.81L926.5 529.24L927.5 533.24L928.5 501.9L929.5 516L930.5 518.95L931.5 528.43L932.5 526.47L933.5 533.04L934.5 526.26L935.5 534.52L936.5 533.05L937.5 534.42L938.5 526.11L939.5 534.04L940.5 528.14L941.5 527.71L942.5 534.42L943.5 533.5L944.5 534.41L945.5 515.99L946.5 528.37L947.5 528.1L948.5 534.82L949.5 534.92L950.5 534.65L951.5 533.9L952.5 515.7L953.5 533.32L954.5 534.73L955.5 534.08L956.5 529.79L957.5 532.18L958.5 523.91L959.5 525.82L960.5 524.62L961.5 521.1L962.5 530.92L963.5 534.53L964.5 525.03L965.5 508.01L966.5 531.58L967.5 534.72L968.5 517.54L969.5 528.92L970.5 534.78L971.5 533.11L972.5 532.88L973.5 533.39L974.5 533.25L975.5 507.54L976.5 532.03L977.5 533.22L978.5 534.1L979.5 531.26L980.5 534.44L981.5 534.13L982.5 529.57L983.5 525.66L984.5 527.08L985.5 534.83L986.5 531.99L987.5 527.93L988.5 534.64L989.5 531.59L990.5 533.96L991.5 534.74L992.5 533.89L993.5 522.56L994.5 534.41L995.5 528.93L996.5 520.07L997.5 525.28L998.5 522.74L999.5 534.51L1000.5 524.65L1001.5 534.31L1002.5 523.12L1003.5 532.25L1004.5 530.59L1005.5 533.46L1006.5 534.61L1007.5 516.88L1008.5 534.84L1009.5 529.24L1010.5 533.86L1011.5 529.08L1012.5 533.8L1013.5 528.3L1014.5 533.15L1015.5 521.4L1016.5 523.67L1017.5 524.81L1018.5 533.58L1019.5 525.41L1020.5 534.77L1021.5 531.77L1022.5 533.26L1023.5 526.32L1024.5 533.4L1025.5 532.83L1026.5 533.83L1027.5 526.26L1028.5 525.96L1029.5 531.24L1030.5 524.67L1031.5 517L1032.5 532.79L1033.5 533.96L1034.5 509.19L1035.5 534.03L1036.5 533.07L1037.5 533.53L1038.5 533.86L1039.5 527.85L1040.5 534.31L1041.5 532.78L1042.5 534.52L1043.5 528.73L1044.5 525.53L1045.5 534.45L1046.5 529.61L1047.5 532.93L1048.5 526.83L1049.5 524.23L1050.5 523.38L1051.5 532.86L1052.5 534.76L1053.5 534.18L1054.5 514.44L1055.5 529.07L1056.5 520.93L1057.5 529.18L1058.5 534.27L1059.5 528.68L1060.5 520.36L1061.5 518.57L1062.5 532.88L1063.5 531.43L1064.5 530.92L1065.5 534L1066.5 528.04L1067.5 533.21L1068.5 529.44L1069.5 527.21L1070.5 533.76L1071.5 527.82L1072.5 531.42L1073.5 509.42L1074.5 533.85L1075.5 524.57L1076.5 532.73L1077.5 524.41L1078.5 530.19L1079.5 527.42L1080.5 534.28L1081.5 534.19L1082.5 534.46L1083.5 533.86L1084.5 533.52L1085.5 522.29L1086.5 533.26L1087.5 531.43L1088.5 532.51L1089.5 531.53L1090.5 532.7L1091.5 526.93L1092.5 528.3L1093.5 526.04L1094.5 533.11L1095.5 534.19L1096.5 522.13L1097.5 520.45L1098.5 531.26L1099.5 533.6L1100.5 530.75L1101.5 534.71L1102.5 533.25L1103.5 534.23L1104.5 533.22L1105.5 519.56L1106.5 532.74L1107.5 518.77L1108.5 533.61L1109.5 533.83L1110.5 530.83L1111.5 534.53L1112.5 534.51L1113.5 527.84L1114.5 533.03L1115.5 530.26L1116.5 531.3L1117.5 522.35L1118.5 534.37L1119.5 529.96L1120.5 531.02L1121.5 527.11L1122.5 533.45L1123.5 533.19L1124.5 520.92L1125.5 534.49L1126.5 528.72L1127.5 534.28L1128.5 531.83L1129.5 530.93L1130.5 533.79L1131.5 527.63L1132.5 533.15L1133.5 534.06L1134.5 527.85L1135.5 526.41L1136.5 534.01L1137.5 530.78L1138.5 534.19L1139.5 526.92L1140.5 526.02L1141.5 530.44L1142.5 533.14L1143.5 533.37L1144.5 534.56L1145.5 531.51L1146.5 520.37L1147.5 531.19L1148.5 533.58L1149.5 530.06L1150.5 528.93L1151.5 531.81L1152.5 533.83L1153.5 530.81L1154.5 531.02L1155.5 533.63L1156.5 527.28L1157.5 533.7L1158.5 520L1159.5 531.81L1160.5 528.18L1161.5 534.56L1162.5 514.04L1163.5 533.65L1164.5 530.47L1165.5 533.04L1166.5 529.53L1167.5 533.79L1168.5 532.59L1169.5 534.01L1170.5 531.59L1171.5 534.47L1172.5 533.49L1173.5 524.65L1174.5 533L1175.5 530.2L1176.5 534.1L1177.5 518.86L1178.5 533.04L1179.5 520.15L1180.5 525.97L1181.5 530.52L1182.5 527.61L1183.5 531.6L1184.5 532.57L1185.5 532.88L1186.5 534.07L1187.5 510.6L1188.5 518.65L1189.5 523.7L1190.5 533.02L1191.5 534.19L1192.5 532.85L1193.5 522.14L1194.5 532.97L1195.5 516L1196.5 504.49L1197.5 520.65L1198.5 533.81L1199.5 533.83L1200.5 534.34L1201.5 532.65L1202.5 533.23L1203.5 521.03L1204.5 532.63L1205.5 519.59L1206.5 527.31L1207.5 524.09L1208.5 529.86L1209.5 524.82L1210.5 530.15L1211.5 523.52L1212.5 520.45L1213.5 524.78L1214.5 521.08L1215.5 527.99L1216.5 532.71L1217.5 529.33L1218.5 532.89L1219.5 526.51L1220.5 533.83L1221.5 534.33L1222.5 534.49L1223.5 530.88L1224.5 534.4L1225.5 531.07L1226.5 514.36L1227.5 519.78L1228.5 533.2L1229.5 522.73L1230.5 521.12L1231.5 532.68L1232.5 531.69L1233.5 526.76L1234.5 529.11L1235.5 532.66L1236.5 530.99L1237.5 533.75L1238.5 521.34L1239.5 532.58L1240.5 533.27L1241.5 527.51L1242.5 531.77L1243.5 526.81L1244.5 529.97L1245.5 532.93L1246.5 524.24L1247.5 519.51L1248.5 529.8L1249.5 526.05L1250.5 533.86L1251.5 532.95L1252.5 533.34L1253.5 527.83L1254.5 532.47L1255.5 516.03L1256.5 531.13L1257.5 522.19L1258.5 526.46L1259.5 532.53L1260.5 534.44L1261.5 526.25L1262.5 519.72L1263.5 526.01L1264.5 531.39L1265.5 526.89L1266.5 528.26L1267.5 533.89L1268.5 528.86L1269.5 531.73L1270.5 533.75L1271.5 527.26L1272.5 533.93L1273.5 531.16L1274.5 526.19L1275.5 533.23L1276.5 527.24L1277.5 527.5L1278.5 532.69L1279.5 525.21L1280.5 522.82L1281.5 534.31L1282.5 527.72L1283.5 533.48L1284.5 525.54L1285.5 532.83L1286.5 534.03L1287.5 533.58L1288.5 530.26L1289.5 533.98L1290.5 534.03L1291.5 533.37L1292.5 533.43L1293.5 525.69L1294.5 525.88L1295.5 530.97L1296.5 531.33L1297.5 534.28L1298.5 525.73L1299.5 533.68L1300.5 529.91L1301.5 529.64L1302.5 532.6L1303.5 532.26L1304.5 521.04L1305.5 533.09L1306.5 523.04L1307.5 530.27L1308.5 527.78L1309.5 525.83L1310.5 533.64L1311.5 520.65L1312.5 527.68L1313.5 532.41L1314.5 529.55L1315.5 534.16L1316.5 520.58L1317.5 533.72L1318.5 528.91L1319.5 532.51L1320.5 533.27L1321.5 521.56L1322.5 530.01L1323.5 533.11L1324.5 530.5L1325.5 533.57L1326.5 532.46L1327.5 530.39L1328.5 532.65L1329.5 532.93L1330.5 533.97L1331.5 532.68L1332.5 533.9L1333.5 533.82L1334.5 527.35L1335.5 519.66L1336.5 525.98L1337.5 532.42L1338.5 530.94L1339.5 507.77L1340.5 534.17L1341.5 520.83L1342.5 525.59L1343.5 534.25L1344.5 534.32L1345.5 506.6L1346.5 534.02L1347.5 533.07L1348.5 525.63L1349.5 532.28L1350.5 508.95L1351.5 533.86L1352.5 513.23L1353.5 531.04L1354.5 534.03L1355.5 532.79L1356.5 510.12L1357.5 532L1358.5 526.84L1359.5 529.15L1360.5 521.74L1361.5 533.5L1362.5 520.15L1363.5 521.98L1364.5 533.96L1365.5 532.87L1366.5 532.63" stroke="#0080ff"/>
<path d="M101 534.5H151M207 534.5H700L1000 533.5L1366 532.5" stroke="#0080ff"/>
</g>
<g stroke-width="1" shape-rendering="crispEdges">
<rect x="103.0" y="481.0" width="13" height="13" fill="#00eeee"/>
<rect x="115.0" y="481.0" width="13" height="13" fill="#00eeee"/>
<rect x="304.0" y="481.0" width="13" height="13" fill="#00eeee"/>
<rect x="382.0" y="481.0" width="13" height="13" fill="#00eeee"/>
<rect x="601.0" y="481.0" width="13" height="13" fill="#00eeee"/>
<rect x="744.0" y="481.0" width="13" height="13" fill="#00eeee"/>
<rect x="1073.0" y="481.0" width="13" height="13" fill="#00eeee"/>
<rect x="1190.0" y="481.0" width="13" height="13" fill="#00eeee"/>
<rect x="1225.0" y="481.0" width="13" height="13" fill="#00eeee"/>
</g><g stroke-width="1" shape-rendering="crispEdges">
<path d="M105 482h1v1h-1zM102 483h7v1h-7zM101 484h1v1h-1zM109 484h1v1h-1zM100 485h1v1h-1zM110 485h1v1h-1zM100 486h1v1h-1zM110 486h1v1h-1zM100 487h1v1h-1zM110 487h1v1h-1zM99 488h2v1h-2zM110 488h2v1h-2zM100 489h1v1h-1zM110 489h1v1h-1zM100 490h1v1h-1zM110 490h1v1h-1zM100 491h1v1h-1zM110 491h1v1h-1zM101 492h1v1h-1zM109 492h1v1h-1zM102 493h7v1h-7zM105 494h1v1h-1z" fill="#c04000" stroke="none"/>
<path d="M151 496h1v1h-1zM148 497h7v1h-7zM147 498h1v1h-1zM155 498h1v1h-1zM146 499h1v1h-1zM156 499h1v1h-1zM146 500h1v1h-1zM156 500h1v1h-1zM146 501h1v1h-1zM156 501h1v1h-1zM145 502h2v1h-2zM156 502h2v1h-2zM146 503h1v1h-1zM156 503h1v1h-1zM146 504h1v1h-1zM156 504h1v1h-1zM146 505h1v1h-1zM156 505h1v1h-1zM147 506h1v1h-1zM155 506h1v1h-1zM148 507h7v1h-7zM151 508h1v1h-1z" fill="#c04000" stroke="none"/>
<path d="M208 485h1v1h-1zM205 486h7v1h-7zM204 487h1v1h-1zM212 487h1v1h-1zM203 488h1v1h-1zM213 488h1v1h-1zM203 489h1v1h-1zM213 489h1v1h-1zM203 490h1v1h-1zM213 490h1v1h-1zM202 491h2v1h-2zM213 491h2v1h-2zM203 492h1v1h-1zM213 492h1v1h-1zM203 493h1v1h-1zM213 493h1v1h-1zM203 494h1v1h-1zM213 494h1v1h-1zM204 495h1v1h-1zM212 495h1v1h-1zM205 496h7v1h-7zM208 497h1v1h-1z" fill="#c04000" stroke="none"/>
<path d="M255 490h1v1h-1zM252 491h7v1h-7zM251 492h1v1h-1zM259 492h1v1h-1zM250 493h1v1h-1zM260 493h1v1h-1zM250 494h1v1h-1zM260 494h1v1h-1zM250 495h1v1h-1zM260 495h1v1h-1zM249 496h2v1h-2zM260 496h2v1h-2zM250 497h1v1h-1zM260 497h1v1h-1zM250 498h1v1h-1zM260 498h1v1h-1zM250 499h1v1h-1zM260 499h1v1h-1zM251 500h1v1h-1zM259 500h1v1h-1zM252 501h7v1h-7zM255 502h1v1h-1z" fill="#c04000" stroke="none"/>
<path d="M261 493h1v1h-1zM258 494h7v1h-7zM257 495h1v1h-1zM265 495h1v1h-1zM256 496h1v1h-1zM266 496h1v1h-1zM256 497h1v1h-1zM266 497h1v1h-1zM256 498h1v1h-1zM266 498h1v1h-1zM255 499h2v1h-2zM266 499h2v1h-2zM256 500h1v1h-1zM266 500h1v1h-1zM256 501h1v1h-1zM266 501h1v1h-1zM256 502h1v1h-1zM266 502h1v1h-1zM257 503h1v1h-1zM265 503h1v1h-1zM258 504h7v1h-7zM261 505h1v1h-1z" fill="#c04000" stroke="none"/>
<path d="M307 483h1v1h-1zM304 484h7v1h-7zM303 485h1v1h-1zM311 485h1v1h-1zM302 486h1v1h-1zM312 486h1v1h-1zM302 487h1v1h-1zM312 487h1v1h-1zM302 488h1v1h-1zM312 488h1v1h-1zM301 489h2v1h-2zM312 489h2v1h-2zM302 490h1v1h-1zM312 490h1v1h-1zM302 491h1v1h-1zM312 491h1v1h-1zM302 492h1v1h-1zM312 492h1v1h-1zM303 493h1v1h-1zM311 493h1v1h-1zM304 494h7v1h-7zM307 495h1v1h-1z" fill="#c04000" stroke="none"/>
<path d="M314 476h1v1h-1zM311 477h7v1h-7zM310 478h1v1h-1zM318 478h1v1h-1zM309 479h1v1h-1zM319 479h1v1h-1zM309 480h1v1h-1zM319 480h1v1h-1zM309 481h1v1h-1zM319 481h1v1h-1zM308 482h2v1h-2zM319 482h2v1h-2zM309 483h1v1h-1zM319 483h1v1h-1zM309 484h1v1h-1zM319 484h1v1h-1zM309 485h1v1h-1zM319 485h1v1h-1zM310 486h1v1h-1zM318 486h1v1h-1zM311 487h7v1h-7zM314 488h1v1h-1z" fill="#c04000" stroke="none"/>
<path d="M360 488h1v1h-1zM357 489h7v1h-7zM356 490h1v1h-1zM364 490h1v1h-1zM355 491h1v1h-1zM365 491h1v1h-1zM355 492h1v1h-1zM365 492h1v1h-1zM355 493h1v1h-1zM365 493h1v1h-1zM354 494h2v1h-2zM365 494h2v1h-2zM355 495h1v1h-1zM365 495h1v1h-1zM355 496h1v1h-1zM365 496h1v1h-1zM355 497h1v1h-1zM365 497h1v1h-1zM356 498h1v1h-1zM364 498h1v1h-1zM357 499h7v1h-7zM360 500h1v1h-1z" fill="#c04000" stroke="none"/>
<path d="M366 489h1v1h-1zM363 490h7v1h-7zM362 491h1v1h-1zM370 491h1v1h-1zM361 492h1v1h-1zM371 492h1v1h-1zM361 493h1v1h-1zM371 493h1v1h-1zM361 494h1v1h-1zM371 494h1v1h-1zM360 495h2v1h-2zM371 495h2v1h-2zM361 496h1v1h-1zM371 496h1v1h-1zM361 497h1v1h-1zM371 497h1v1h-1zM361 498h1v1h-1zM371 498h1v1h-1zM362 499h1v1h-1zM370 499h1v1h-1zM363 500h7v1h-7zM366 501h1v1h-1z" fill="#c04000" stroke="none"/>
<path d="M413 495h1v1h-1zM410 496h7v1h-7zM409 497h1v1h-1zM417 497h1v1h-1zM408 498h1v1h-1zM418 498h1v1h-1zM408 499h1v1h-1zM418 499h1v1h-1zM408 500h1v1h-1zM418 500h1v1h-1zM407 501h2v1h-2zM418 501h2v1h-2zM408 502h1v1h-1zM418 502h1v1h-1zM408 503h1v1h-1zM418 503h1v1h-1zM408 504h1v1h-1zM418 504h1v1h-1zM409 505h1v1h-1zM417 505h1v1h-1zM410 506h7v1h-7zM413 507h1v1h-1z" fill="#c04000" stroke="none"/>
<path d="M420 496h1v1h-1zM417 497h7v1h-7zM416 498h1v1h-1zM424 498h1v1h-1zM415 499h1v1h-1zM425 499h1v1h-1zM415 500h1v1h-1zM425 500h1v1h-1zM415 501h1v1h-1zM425 501h1v1h-1zM414 502h2v1h-2zM425 502h2v1h-2zM415 503h1v1h-1zM425 503h1v1h-1zM415 504h1v1h-1zM425 504h1v1h-1zM415 505h1v1h-1zM425 505h1v1h-1zM416 506h1v1h-1zM424 506h1v1h-1zM417 507h7v1h-7zM420 508h1v1h-1z" fill="#c04000" stroke="none"/>
<path d="M466 482h1v1h-1zM463 483h7v1h-7zM462 484h1v1h-1zM470 484h1v1h-1zM461 485h1v1h-1zM471 485h1v1h-1zM461 486h1v1h-1zM471 486h1v1h-1zM461 487h1v1h-1zM471 487h1v1h-1zM460 488h2v1h-2zM471 488h2v1h-2zM461 489h1v1h-1zM471 489h1v1h-1zM461 490h1v1h-1zM471 490h1v1h-1zM461 491h1v1h-1zM471 491h1v1h-1zM462 492h1v1h-1zM470 492h1v1h-1zM463 493h7v1h-7zM466 494h1v1h-1z" fill="#c04000" stroke="none"/>
<path d="M472 493h1v1h-1zM469 494h7v1h-7zM468 495h1v1h-1zM476 495h1v1h-1zM467 496h1v1h-1zM477 496h1v1h-1zM467 497h1v1h-1zM477 497h1v1h-1zM467 498h1v1h-1zM477 498h1v1h-1zM466 499h2v1h-2zM477 499h2v1h-2zM467 500h1v1h-1zM477 500h1v1h-1zM467 501h1v1h-1zM477 501h1v1h-1zM467 502h1v1h-1zM477 502h1v1h-1zM468 503h1v1h-1zM476 503h1v1h-1zM469 504h7v1h-7zM472 505h1v1h-1z" fill="#c04000" stroke="none"/>
<path d="M518 485h1v1h-1zM515 486h7v1h-7zM514 487h1v1h-1zM522 487h1v1h-1zM513 488h1v1h-1zM523 488h1v1h-1zM513 489h1v1h-1zM523 489h1v1h-1zM513 490h1v1h-1zM523 490h1v1h-1zM512 491h2v1h-2zM523 491h2v1h-2zM513 492h1v1h-1zM523 492h1v1h-1zM513 493h1v1h-1zM523 493h1v1h-1zM513 494h1v1h-1zM523 494h1v1h-1zM514 495h1v1h-1zM522 495h1v1h-1zM515 496h7v1h-7zM518 497h1v1h-1z" fill="#c04000" stroke="none"/>
<path d="M524 493h1v1h-1zM521 494h7v1h-7zM520 495h1v1h-1zM528 495h1v1h-1zM519 496h1v1h-1zM529 496h1v1h-1zM519 497h1v1h-1zM529 497h1v1h-1zM519 498h1v1h-1zM529 498h1v1h-1zM518 499h2v1h-2zM529 499h2v1h-2zM519 500h1v1h-1zM529 500h1v1h-1zM519 501h1v1h-1zM529 501h1v1h-1zM519 502h1v1h-1zM529 502h1v1h-1zM520 503h1v1h-1zM528 503h1v1h-1zM521 504h7v1h-7zM524 505h1v1h-1z" fill="#c04000" stroke="none"/>
<path d="M571 482h1v1h-1zM568 483h7v1h-7zM567 484h1v1h-1zM575 484h1v1h-1zM566 485h1v1h-1zM576 485h1v1h-1zM566 486h1v1h-1zM576 486h1v1h-1zM566 487h1v1h-1zM576 487h1v1h-1zM565 488h2v1h-2zM576 488h2v1h-2zM566 489h1v1h-1zM576 489h1v1h-1zM566 490h1v1h-1zM576 490h1v1h-1zM566 491h1v1h-1zM576 491h1v1h-1zM567 492h1v1h-1zM575 492h1v1h-1zM568 493h7v1h-7zM571 494h1v1h-1z" fill="#c04000" stroke="none"/>
<path d="M577 490h1v1h-1zM574 491h7v1h-7zM573 492h1v1h-1zM581 492h1v1h-1zM572 493h1v1h-1zM582 493h1v1h-1zM572 494h1v1h-1zM582 494h1v1h-1zM572 495h1v1h-1zM582 495h1v1h-1zM571 496h2v1h-2zM582 496h2v1h-2zM572 497h1v1h-1zM582 497h1v1h-1zM572 498h1v1h-1zM582 498h1v1h-1zM572 499h1v1h-1zM582 499h1v1h-1zM573 500h1v1h-1zM581 500h1v1h-1zM574 501h7v1h-7zM577 502h1v1h-1z" fill="#c04000" stroke="none"/>
<path d="M624 487h1v1h-1zM621 488h7v1h-7zM620 489h1v1h-1zM628 489h1v1h-1zM619 490h1v1h-1zM629 490h1v1h-1zM619 491h1v1h-1zM629 491h1v1h-1zM619 492h1v1h-1zM629 492h1v1h-1zM618 493h2v1h-2zM629 493h2v1h-2zM619 494h1v1h-1zM629 494h1v1h-1zM619 495h1v1h-1zM629 495h1v1h-1zM619 496h1v1h-1zM629 496h1v1h-1zM620 497h1v1h-1zM628 497h1v1h-1zM621 498h7v1h-7zM624 499h1v1h-1z" fill="#c04000" stroke="none"/>
<path d="M630 494h1v1h-1zM627 495h7v1h-7zM626 496h1v1h-1zM634 496h1v1h-1zM625 497h1v1h-1zM635 497h1v1h-1zM625 498h1v1h-1zM635 498h1v1h-1zM625 499h1v1h-1zM635 499h1v1h-1zM624 500h2v1h-2zM635 500h2v1h-2zM625 501h1v1h-1zM635 501h1v1h-1zM625 502h1v1h-1zM635 502h1v1h-1zM625 503h1v1h-1zM635 503h1v1h-1zM626 504h1v1h-1zM634 504h1v1h-1zM627 505h7v1h-7zM630 506h1v1h-1z" fill="#c04000" stroke="none"/>
<path d="M676 481h1v1h-1zM673 482h7v1h-7zM672 483h1v1h-1zM680 483h1v1h-1zM671 484h1v1h-1zM681 484h1v1h-1zM671 485h1v1h-1zM681 485h1v1h-1zM671 486h1v1h-1zM681 486h1v1h-1zM670 487h2v1h-2zM681 487h2v1h-2zM671 488h1v1h-1zM681 488h1v1h-1zM671 489h1v1h-1zM681 489h1v1h-1zM671 490h1v1h-1zM681 490h1v1h-1zM672 491h1v1h-1zM680 491h1v1h-1zM673 492h7v1h-7zM676 493h1v1h-1z" fill="#c04000" stroke="none"/>
<path d="M683 486h1v1h-1zM680 487h7v1h-7zM679 488h1v1h-1zM687 488h1v1h-1zM678 489h1v1h-1zM688 489h1v1h-1zM678 490h1v1h-1zM688 490h1v1h-1zM678 491h1v1h-1zM688 491h1v1h-1zM677 492h2v1h-2zM688 492h2v1h-2zM678 493h1v1h-1zM688 493h1v1h-1zM678 494h1v1h-1zM688 494h1v1h-1zM678 495h1v1h-1zM688 495h1v1h-1zM679 496h1v1h-1zM687 496h1v1h-1zM680 497h7v1h-7zM683 498h1v1h-1z" fill="#c04000" stroke="none"/>
<path d="M729 471h1v1h-1zM726 472h7v1h-7zM725 473h1v1h-1zM733 473h1v1h-1zM724 474h1v1h-1zM734 474h1v1h-1zM724 475h1v1h-1zM734 475h1v1h-1zM724 476h1v1h-1zM734 476h1v1h-1zM723 477h2v1h-2zM734 477h2v1h-2zM724 478h1v1h-1zM734 478h1v1h-1zM724 479h1v1h-1zM734 479h1v1h-1zM724 480h1v1h-1zM734 480h1v1h-1zM725 481h1v1h-1zM733 481h1v1h-1zM726 482h7v1h-7zM729 483h1v1h-1z" fill="#c04000" stroke="none"/>
<path d="M735 477h1v1h-1zM732 478h7v1h-7zM731 479h1v1h-1zM739 479h1v1h-1zM730 480h1v1h-1zM740 480h1v1h-1zM730 481h1v1h-1zM740 481h1v1h-1zM730 482h1v1h-1zM740 482h1v1h-1zM729 483h2v1h-2zM740 483h2v1h-2zM730 484h1v1h-1zM740 484h1v1h-1zM730 485h1v1h-1zM740 485h1v1h-1zM730 486h1v1h-1zM740 486h1v1h-1zM731 487h1v1h-1zM739 487h1v1h-1zM732 488h7v1h-7zM735 489h1v1h-1z" fill="#c04000" stroke="none"/>
<path d="M782 461h1v1h-1zM779 462h7v1h-7zM778 463h1v1h-1zM786 463h1v1h-1zM777 464h1v1h-1zM787 464h1v1h-1zM777 465h1v1h-1zM787 465h1v1h-1zM777 466h1v1h-1zM787 466h1v1h-1zM776 467h2v1h-2zM787 467h2v1h-2zM777 468h1v1h-1zM787 468h1v1h-1zM777 469h1v1h-1zM787 469h1v1h-1zM777 470h1v1h-1zM787 470h1v1h-1zM778 471h1v1h-1zM786 471h1v1h-1zM779 472h7v1h-7zM782 473h1v1h-1z" fill="#c04000" stroke="none"/>
<path d="M788 474h1v1h-1zM785 475h7v1h-7zM784 476h1v1h-1zM792 476h1v1h-1zM783 477h1v1h-1zM793 477h1v1h-1zM783 478h1v1h-1zM793 478h1v1h-1zM783 479h1v1h-1zM793 479h1v1h-1zM782 480h2v1h-2zM793 480h2v1h-2zM783 481h1v1h-1zM793 481h1v1h-1zM783 482h1v1h-1zM793 482h1v1h-1zM783 483h1v1h-1zM793 483h1v1h-1zM784 484h1v1h-1zM792 484h1v1h-1zM785 485h7v1h-7zM788 486h1v1h-1z" fill="#c04000" stroke="none"/>
<path d="M835 464h1v1h-1zM832 465h7v1h-7zM831 466h1v1h-1zM839 466h1v1h-1zM830 467h1v1h-1zM840 467h1v1h-1zM830 468h1v1h-1zM840 468h1v1h-1zM830 469h1v1h-1zM840 469h1v1h-1zM829 470h2v1h-2zM840 470h2v1h-2zM830 471h1v1h-1zM840 471h1v1h-1zM830 472h1v1h-1zM840 472h1v1h-1zM830 473h1v1h-1zM840 473h1v1h-1zM831 474h1v1h-1zM839 474h1v1h-1zM832 475h7v1h-7zM835 476h1v1h-1z" fill="#c04000" stroke="none"/>
<path d="M841 466h1v1h-1zM838 467h7v1h-7zM837 468h1v1h-1zM845 468h1v1h-1zM836 469h1v1h-1zM846 469h1v1h-1zM836 470h1v1h-1zM846 470h1v1h-1zM836 471h1v1h-1zM846 471h1v1h-1zM835 472h2v1h-2zM846 472h2v1h-2zM836 473h1v1h-1zM846 473h1v1h-1zM836 474h1v1h-1zM846 474h1v1h-1zM836 475h1v1h-1zM846 475h1v1h-1zM837 476h1v1h-1zM845 476h1v1h-1zM838 477h7v1h-7zM841 478h1v1h-1z" fill="#c04000" stroke="none"/>
<path d="M887 473h1v1h-1zM884 474h7v1h-7zM883 475h1v1h-1zM891 475h1v1h-1zM882 476h1v1h-1zM892 476h1v1h-1zM882 477h1v1h-1zM892 477h1v1h-1zM882 478h1v1h-1zM892 478h1v1h-1zM881 479h2v1h-2zM892 479h2v1h-2zM882 480h1v1h-1zM892 480h1v1h-1zM882 481h1v1h-1zM892 481h1v1h-1zM882 482h1v1h-1zM892 482h1v1h-1zM883 483h1v1h-1zM891 483h1v1h-1zM884 484h7v1h-7zM887 485h1v1h-1z" fill="#c04000" stroke="none"/>
<path d="M893 469h1v1h-1zM890 470h7v1h-7zM889 471h1v1h-1zM897 471h1v1h-1zM888 472h1v1h-1zM898 472h1v1h-1zM888 473h1v1h-1zM898 473h1v1h-1zM888 474h1v1h-1zM898 474h1v1h-1zM887 475h2v1h-2zM898 475h2v1h-2zM888 476h1v1h-1zM898 476h1v1h-1zM888 477h1v1h-1zM898 477h1v1h-1zM888 478h1v1h-1zM898 478h1v1h-1zM889 479h1v1h-1zM897 479h1v1h-1zM890 480h7v1h-7zM893 481h1v1h-1z" fill="#c04000" stroke="none"/>
<path d="M946 444h1v1h-1zM943 445h7v1h-7zM942 446h1v1h-1zM950 446h1v1h-1zM941 447h1v1h-1zM951 447h1v1h-1zM941 448h1v1h-1zM951 448h1v1h-1zM941 449h1v1h-1zM951 449h1v1h-1zM940 450h2v1h-2zM951 450h2v1h-2zM941 451h1v1h-1zM951 451h1v1h-1zM941 452h1v1h-1zM951 452h1v1h-1zM941 453h1v1h-1zM951 453h1v1h-1zM942 454h1v1h-1zM950 454h1v1h-1zM943 455h7v1h-7zM946 456h1v1h-1z" fill="#c04000" stroke="none"/>
<path d="M940 465h1v1h-1zM937 466h7v1h-7zM936 467h1v1h-1zM944 467h1v1h-1zM935 468h1v1h-1zM945 468h1v1h-1zM935 469h1v1h-1zM945 469h1v1h-1zM935 470h1v1h-1zM945 470h1v1h-1zM934 471h2v1h-2zM945 471h2v1h-2zM935 472h1v1h-1zM945 472h1v1h-1zM935 473h1v1h-1zM945 473h1v1h-1zM935 474h1v1h-1zM945 474h1v1h-1zM936 475h1v1h-1zM944 475h1v1h-1zM937 476h7v1h-7zM940 477h1v1h-1z" fill="#c04000" stroke="none"/>
<path d="M999 462h1v1h-1zM996 463h7v1h-7zM995 464h1v1h-1zM1003 464h1v1h-1zM994 465h1v1h-1zM1004 465h1v1h-1zM994 466h1v1h-1zM1004 466h1v1h-1zM994 467h1v1h-1zM1004 467h1v1h-1zM993 468h2v1h-2zM1004 468h2v1h-2zM994 469h1v1h-1zM1004 469h1v1h-1zM994 470h1v1h-1zM1004 470h1v1h-1zM994 471h1v1h-1zM1004 471h1v1h-1zM995 472h1v1h-1zM1003 472h1v1h-1zM996 473h7v1h-7zM999 474h1v1h-1z" fill="#c04000" stroke="none"/>
<path d="M993 476h1v1h-1zM990 477h7v1h-7zM989 478h1v1h-1zM997 478h1v1h-1zM988 479h1v1h-1zM998 479h1v1h-1zM988 480h1v1h-1zM998 480h1v1h-1zM988 481h1v1h-1zM998 481h1v1h-1zM987 482h2v1h-2zM998 482h2v1h-2zM988 483h1v1h-1zM998 483h1v1h-1zM988 484h1v1h-1zM998 484h1v1h-1zM988 485h1v1h-1zM998 485h1v1h-1zM989 486h1v1h-1zM997 486h1v1h-1zM990 487h7v1h-7zM993 488h1v1h-1z" fill="#c04000" stroke="none"/>
<path d="M1045 460h1v1h-1zM1042 461h7v1h-7zM1041 462h1v1h-1zM1049 462h1v1h-1zM1040 463h1v1h-1zM1050 463h1v1h-1zM1040 464h1v1h-1zM1050 464h1v1h-1zM1040 465h1v1h-1zM1050 465h1v1h-1zM1039 466h2v1h-2zM1050 466h2v1h-2zM1040 467h1v1h-1zM1050 467h1v1h-1zM1040 468h1v1h-1zM1050 468h1v1h-1zM1040 469h1v1h-1zM1050 469h1v1h-1zM1041 470h1v1h-1zM1049 470h1v1h-1zM1042 471h7v1h-7zM1045 472h1v1h-1z" fill="#c04000" stroke="none"/>
<path d="M1052 458h1v1h-1zM1049 459h7v1h-7zM1048 460h1v1h-1zM1056 460h1v1h-1zM1047 461h1v1h-1zM1057 461h1v1h-1zM1047 462h1v1h-1zM1057 462h1v1h-1zM1047 463h1v1h-1zM1057 463h1v1h-1zM1046 464h2v1h-2zM1057 464h2v1h-2zM1047 465h1v1h-1zM1057 465h1v1h-1zM1047 466h1v1h-1zM1057 466h1v1h-1zM1047 467h1v1h-1zM1057 467h1v1h-1zM1048 468h1v1h-1zM1056 468h1v1h-1zM1049 469h7v1h-7zM1052 470h1v1h-1z" fill="#c04000" stroke="none"/>
<path d="M1098 466h1v1h-1zM1095 467h7v1h-7zM1094 468h1v1h-1zM1102 468h1v1h-1zM1093 469h1v1h-1zM1103 469h1v1h-1zM1093 470h1v1h-1zM1103 470h1v1h-1zM1093 471h1v1h-1zM1103 471h1v1h-1zM1092 472h2v1h-2zM1103 472h2v1h-2zM1093 473h1v1h-1zM1103 473h1v1h-1zM1093 474h1v1h-1zM1103 474h1v1h-1zM1093 475h1v1h-1zM1103 475h1v1h-1zM1094 476h1v1h-1zM1102 476h1v1h-1zM1095 477h7v1h-7zM1098 478h1v1h-1z" fill="#c04000" stroke="none"/>
<path d="M1104 433h1v1h-1zM1101 434h7v1h-7zM1100 435h1v1h-1zM1108 435h1v1h-1zM1099 436h1v1h-1zM1109 436h1v1h-1zM1099 437h1v1h-1zM1109 437h1v1h-1zM1099 438h1v1h-1zM1109 438h1v1h-1zM1098 439h2v1h-2zM1109 439h2v1h-2zM1099 440h1v1h-1zM1109 440h1v1h-1zM1099 441h1v1h-1zM1109 441h1v1h-1zM1099 442h1v1h-1zM1109 442h1v1h-1zM1100 443h1v1h-1zM1108 443h1v1h-1zM1101 444h7v1h-7zM1104 445h1v1h-1z" fill="#c04000" stroke="none"/>
<path d="M1151 427h1v1h-1zM1148 428h7v1h-7zM1147 429h1v1h-1zM1155 429h1v1h-1zM1146 430h1v1h-1zM1156 430h1v1h-1zM1146 431h1v1h-1zM1156 431h1v1h-1zM1146 432h1v1h-1zM1156 432h1v1h-1zM1145 433h2v1h-2zM1156 433h2v1h-2zM1146 434h1v1h-1zM1156 434h1v1h-1zM1146 435h1v1h-1zM1156 435h1v1h-1zM1146 436h1v1h-1zM1156 436h1v1h-1zM1147 437h1v1h-1zM1155 437h1v1h-1zM1148 438h7v1h-7zM1151 439h1v1h-1z" fill="#c04000" stroke="none"/>
<path d="M1157 468h1v1h-1zM1154 469h7v1h-7zM1153 470h1v1h-1zM1161 470h1v1h-1zM1152 471h1v1h-1zM1162 471h1v1h-1zM1152 472h1v1h-1zM1162 472h1v1h-1zM1152 473h1v1h-1zM1162 473h1v1h-1zM1151 474h2v1h-2zM1162 474h2v1h-2zM1152 475h1v1h-1zM1162 475h1v1h-1zM1152 476h1v1h-1zM1162 476h1v1h-1zM1152 477h1v1h-1zM1162 477h1v1h-1zM1153 478h1v1h-1zM1161 478h1v1h-1zM1154 479h7v1h-7zM1157 480h1v1h-1z" fill="#c04000" stroke="none"/>
<path d="M1203 467h1v1h-1zM1200 468h7v1h-7zM1199 469h1v1h-1zM1207 469h1v1h-1zM1198 470h1v1h-1zM1208 470h1v1h-1zM1198 471h1v1h-1zM1208 471h1v1h-1zM1198 472h1v1h-1zM1208 472h1v1h-1zM1197 473h2v1h-2zM1208 473h2v1h-2zM1198 474h1v1h-1zM1208 474h1v1h-1zM1198 475h1v1h-1zM1208 475h1v1h-1zM1198 476h1v1h-1zM1208 476h1v1h-1zM1199 477h1v1h-1zM1207 477h1v1h-1zM1200 478h7v1h-7zM1203 479h1v1h-1z" fill="#c04000" stroke="none"/>
<path d="M1210 464h1v1h-1zM1207 465h7v1h-7zM1206 466h1v1h-1zM1214 466h1v1h-1zM1205 467h1v1h-1zM1215 467h1v1h-1zM1205 468h1v1h-1zM1215 468h1v1h-1zM1205 469h1v1h-1zM1215 469h1v1h-1zM1204 470h2v1h-2zM1215 470h2v1h-2zM1205 471h1v1h-1zM1215 471h1v1h-1zM1205 472h1v1h-1zM1215 472h1v1h-1zM1205 473h1v1h-1zM1215 473h1v1h-1zM1206 474h1v1h-1zM1214 474h1v1h-1zM1207 475h7v1h-7zM1210 476h1v1h-1z" fill="#c04000" stroke="none"/>
<path d="M1256 464h1v1h-1zM1253 465h7v1h-7zM1252 466h1v1h-1zM1260 466h1v1h-1zM1251 467h1v1h-1zM1261 467h1v1h-1zM1251 468h1v1h-1zM1261 468h1v1h-1zM1251 469h1v1h-1zM1261 469h1v1h-1zM1250 470h2v1h-2zM1261 470h2v1h-2zM1251 471h1v1h-1zM1261 471h1v1h-1zM1251 472h1v1h-1zM1261 472h1v1h-1zM1251 473h1v1h-1zM1261 473h1v1h-1zM1252 474h1v1h-1zM1260 474h1v1h-1zM1253 475h7v1h-7zM1256 476h1v1h-1z" fill="#c04000" stroke="none"/>
<path d="M1262 471h1v1h-1zM1259 472h7v1h-7zM1258 473h1v1h-1zM1266 473h1v1h-1zM1257 474h1v1h-1zM1267 474h1v1h-1zM1257 475h1v1h-1zM1267 475h1v1h-1zM1257 476h1v1h-1zM1267 476h1v1h-1zM1256 477h2v1h-2zM1267 477h2v1h-2zM1257 478h1v1h-1zM1267 478h1v1h-1zM1257 479h1v1h-1zM1267 479h1v1h-1zM1257 480h1v1h-1zM1267 480h1v1h-1zM1258 481h1v1h-1zM1266 481h1v1h-1zM1259 482h7v1h-7zM1262 483h1v1h-1z" fill="#c04000" stroke="none"/>
<path d="M1308 463h1v1h-1zM1305 464h7v1h-7zM1304 465h1v1h-1zM1312 465h1v1h-1zM1303 466h1v1h-1zM1313 466h1v1h-1zM1303 467h1v1h-1zM1313 467h1v1h-1zM1303 468h1v1h-1zM1313 468h1v1h-1zM1302 469h2v1h-2zM1313 469h2v1h-2zM1303 470h1v1h-1zM1313 470h1v1h-1zM1303 471h1v1h-1zM1313 471h1v1h-1zM1303 472h1v1h-1zM1313 472h1v1h-1zM1304 473h1v1h-1zM1312 473h1v1h-1zM1305 474h7v1h-7zM1308 475h1v1h-1z" fill="#c04000" stroke="none"/>
<path d="M1315 462h1v1h-1zM1312 463h7v1h-7zM1311 464h1v1h-1zM1319 464h1v1h-1zM1310 465h1v1h-1zM1320 465h1v1h-1zM1310 466h1v1h-1zM1320 466h1v1h-1zM1310 467h1v1h-1zM1320 467h1v1h-1zM1309 468h2v1h-2zM1320 468h2v1h-2zM1310 469h1v1h-1zM1320 469h1v1h-1zM1310 470h1v1h-1zM1320 470h1v1h-1zM1310 471h1v1h-1zM1320 471h1v1h-1zM1311 472h1v1h-1zM1319 472h1v1h-1zM1312 473h7v1h-7zM1315 474h1v1h-1z" fill="#c04000" stroke="none"/>
<path d="M1362 489h1v1h-1zM1359 490h7v1h-7zM1358 491h1v1h-1zM1366 491h1v1h-1zM1357 492h1v1h-1zM1367 492h1v1h-1zM1357 493h1v1h-1zM1367 493h1v1h-1zM1357 494h1v1h-1zM1367 494h1v1h-1zM1356 495h2v1h-2zM1367 495h2v1h-2zM1357 496h1v1h-1zM1367 496h1v1h-1zM1357 497h1v1h-1zM1367 497h1v1h-1zM1357 498h1v1h-1zM1367 498h1v1h-1zM1358 499h1v1h-1zM1366 499h1v1h-1zM1359 500h7v1h-7zM1362 501h1v1h-1z" fill="#c04000" stroke="none"/>
<path d="M105 522h1v1h-1zM102 523h7v1h-7zM101 524h9v1h-9zM100 525h11v1h-11zM100 526h11v1h-11zM100 527h11v1h-11zM100 528h11v1h-11zM100 529h11v1h-11zM100 530h11v1h-11zM100 531h11v1h-11zM101 532h9v1h-9zM102 533h7v1h-7zM105 534h1v1h-1z" fill="#c8c800" stroke="none"/>
<path d="M151 526h1v1h-1zM148 527h7v1h-7zM147 528h9v1h-9zM146 529h11v1h-11zM146 530h11v1h-11zM146 531h11v1h-11zM146 532h11v1h-11zM146 533h11v1h-11zM146 534h11v1h-11zM146 535h11v1h-11zM147 536h9v1h-9zM148 537h7v1h-7zM151 538h1v1h-1z" fill="#c8c800" stroke="none"/>
<path d="M208 527h1v1h-1zM205 528h7v1h-7zM204 529h9v1h-9zM203 530h11v1h-11zM203 531h11v1h-11zM203 532h11v1h-11zM203 533h11v1h-11zM203 534h11v1h-11zM203 535h11v1h-11zM203 536h11v1h-11zM204 537h9v1h-9zM205 538h7v1h-7zM208 539h1v1h-1z" fill="#c8c800" stroke="none"/>
<path d="M253 527h1v1h-1zM250 528h7v1h-7zM249 529h9v1h-9zM248 530h11v1h-11zM248 531h11v1h-11zM248 532h11v1h-11zM248 533h11v1h-11zM248 534h11v1h-11zM248 535h11v1h-11zM248 536h11v1h-11zM249 537h9v1h-9zM250 538h7v1h-7zM253 539h1v1h-1z" fill="#c8c800" stroke="none"/>
<path d="M261 527h1v1h-1zM258 528h7v1h-7zM257 529h9v1h-9zM256 530h11v1h-11zM256 531h11v1h-11zM256 532h11v1h-11zM256 533h11v1h-11zM256 534h11v1h-11zM256 535h11v1h-11zM256 536h11v1h-11zM257 537h9v1h-9zM258 538h7v1h-7zM261 539h1v1h-1z" fill="#c8c800" stroke="none"/>
<path d="M307 526h1v1h-1zM304 527h7v1h-7zM303 528h9v1h-9zM302 529h11v1h-11zM302 530h11v1h-11zM302 531h11v1h-11zM302 532h11v1h-11zM302 533h11v1h-11zM302 534h11v1h-11zM302 535h11v1h-11zM303 536h9v1h-9zM304 537h7v1h-7zM307 538h1v1h-1z" fill="#c8c800" stroke="none"/>
<path d="M313 525h1v1h-1zM310 526h7v1h-7zM309 527h9v1h-9zM308 528h11v1h-11zM308 529h11v1h-11zM308 530h11v1h-11zM308 531h11v1h-11zM308 532h11v1h-11zM308 533h11v1h-11zM308 534h11v1h-11zM309 535h9v1h-9zM310 536h7v1h-7zM313 537h1v1h-1z" fill="#c8c800" stroke="none"/>
<path d="M360 527h1v1h-1zM357 528h7v1h-7zM356 529h9v1h-9zM355 530h11v1h-11zM355 531h11v1h-11zM355 532h11v1h-11zM355 533h11v1h-11zM355 534h11v1h-11zM355 535h11v1h-11zM355 536h11v1h-11zM356 537h9v1h-9zM357 538h7v1h-7zM360 539h1v1h-1z" fill="#c8c800" stroke="none"/>
<path d="M366 525h1v1h-1zM363 526h7v1h-7zM362 527h9v1h-9zM361 528h11v1h-11zM361 529h11v1h-11zM361 530h11v1h-11zM361 531h11v1h-11zM361 532h11v1h-11zM361 533h11v1h-11zM361 534h11v1h-11zM362 535h9v1h-9zM363 536h7v1h-7zM366 537h1v1h-1z" fill="#c8c800" stroke="none"/>
<path d="M413 525h1v1h-1zM410 526h7v1h-7zM409 527h9v1h-9zM408 528h11v1h-11zM408 529h11v1h-11zM408 530h11v1h-11zM408 531h11v1h-11zM408 532h11v1h-11zM408 533h11v1h-11zM408 534h11v1h-11zM409 535h9v1h-9zM410 536h7v1h-7zM413 537h1v1h-1z" fill="#c8c800" stroke="none"/>
<path d="M420 525h1v1h-1zM417 526h7v1h-7zM416 527h9v1h-9zM415 528h11v1h-11zM415 529h11v1h-11zM415 530h11v1h-11zM415 531h11v1h-11zM415 532h11v1h-11zM415 533h11v1h-11zM415 534h11v1h-11zM416 535h9v1h-9zM417 536h7v1h-7zM420 537h1v1h-1z" fill="#c8c800" stroke="none"/>
<path d="M467 526h1v1h-1zM464 527h7v1h-7zM463 528h9v1h-9zM462 529h11v1h-11zM462 530h11v1h-11zM462 531h11v1h-11zM462 532h11v1h-11zM462 533h11v1h-11zM462 534h11v1h-11zM462 535h11v1h-11zM463 536h9v1h-9zM464 537h7v1h-7zM467 538h1v1h-1z" fill="#c8c800" stroke="none"/>
<path d="M472 526h1v1h-1zM469 527h7v1h-7zM468 528h9v1h-9zM467 529h11v1h-11zM467 530h11v1h-11zM467 531h11v1h-11zM467 532h11v1h-11zM467 533h11v1h-11zM467 534h11v1h-11zM467 535h11v1h-11zM468 536h9v1h-9zM469 537h7v1h-7zM472 538h1v1h-1z" fill="#c8c800" stroke="none"/>
<path d="M518 527h1v1h-1zM515 528h7v1h-7zM514 529h9v1h-9zM513 530h11v1h-11zM513 531h11v1h-11zM513 532h11v1h-11zM513 533h11v1h-11zM513 534h11v1h-11zM513 535h11v1h-11zM513 536h11v1h-11zM514 537h9v1h-9zM515 538h7v1h-7zM518 539h1v1h-1z" fill="#c8c800" stroke="none"/>
<path d="M524 525h1v1h-1zM521 526h7v1h-7zM520 527h9v1h-9zM519 528h11v1h-11zM519 529h11v1h-11zM519 530h11v1h-11zM519 531h11v1h-11zM519 532h11v1h-11zM519 533h11v1h-11zM519 534h11v1h-11zM520 535h9v1h-9zM521 536h7v1h-7zM524 537h1v1h-1z" fill="#c8c800" stroke="none"/>
<path d="M572 527h1v1h-1zM569 528h7v1h-7zM568 529h9v1h-9zM567 530h11v1h-11zM567 531h11v1h-11zM567 532h11v1h-11zM567 533h11v1h-11zM567 534h11v1h-11zM567 535h11v1h-11zM567 536h11v1h-11zM568 537h9v1h-9zM569 538h7v1h-7zM572 539h1v1h-1z" fill="#c8c800" stroke="none"/>
<path d="M577 525h1v1h-1zM574 526h7v1h-7zM573 527h9v1h-9zM572 528h11v1h-11zM572 529h11v1h-11zM572 530h11v1h-11zM572 531h11v1h-11zM572 532h11v1h-11zM572 533h11v1h-11zM572 534h11v1h-11zM573 535h9v1h-9zM574 536h7v1h-7zM577 537h1v1h-1z" fill="#c8c800" stroke="none"/>
<path d="M625 527h1v1h-1zM622 528h7v1h-7zM621 529h9v1h-9zM620 530h11v1h-11zM620 531h11v1h-11zM620 532h11v1h-11zM620 533h11v1h-11zM620 534h11v1h-11zM620 535h11v1h-11zM620 536h11v1h-11zM621 537h9v1h-9zM622 538h7v1h-7zM625 539h1v1h-1z" fill="#c8c800" stroke="none"/>
<path d="M630 525h1v1h-1zM627 526h7v1h-7zM626 527h9v1h-9zM625 528h11v1h-11zM625 529h11v1h-11zM625 530h11v1h-11zM625 531h11v1h-11zM625 532h11v1h-11zM625 533h11v1h-11zM625 534h11v1h-11zM626 535h9v1h-9zM627 536h7v1h-7zM630 537h1v1h-1z" fill="#c8c800" stroke="none"/>
<path d="M677 526h1v1h-1zM674 527h7v1h-7zM673 528h9v1h-9zM672 529h11v1h-11zM672 530h11v1h-11zM672 531h11v1h-11zM672 532h11v1h-11zM672 533h11v1h-11zM672 534h11v1h-11zM672 535h11v1h-11zM673 536h9v1h-9zM674 537h7v1h-7zM677 538h1v1h-1z" fill="#c8c800" stroke="none"/>
<path d="M683 527h1v1h-1zM680 528h7v1h-7zM679 529h9v1h-9zM678 530h11v1h-11zM678 531h11v1h-11zM678 532h11v1h-11zM678 533h11v1h-11zM678 534h11v1h-11zM678 535h11v1h-11zM678 536h11v1h-11zM679 537h9v1h-9zM680 538h7v1h-7zM683 539h1v1h-1z" fill="#c8c800" stroke="none"/>
<path d="M729 523h1v1h-1zM726 524h7v1h-7zM725 525h9v1h-9zM724 526h11v1h-11zM724 527h11v1h-11zM724 528h11v1h-11zM724 529h11v1h-11zM724 530h11v1h-11zM724 531h11v1h-11zM724 532h11v1h-11zM725 533h9v1h-9zM726 534h7v1h-7zM729 535h1v1h-1z" fill="#c8c800" stroke="none"/>
<path d="M735 303h1v1h-1zM732 304h7v1h-7zM731 305h9v1h-9zM730 306h11v1h-11zM730 307h11v1h-11zM730 308h11v1h-11zM730 309h11v1h-11zM730 310h11v1h-11zM730 311h11v1h-11zM730 312h11v1h-11zM731 313h9v1h-9zM732 314h7v1h-7zM735 315h1v1h-1z" fill="#c8c800" stroke="none"/>
<path d="M782 526h1v1h-1zM779 527h7v1h-7zM778 528h9v1h-9zM777 529h11v1h-11zM777 530h11v1h-11zM777 531h11v1h-11zM777 532h11v1h-11zM777 533h11v1h-11zM777 534h11v1h-11zM777 535h11v1h-11zM778 536h9v1h-9zM779 537h7v1h-7zM782 538h1v1h-1z" fill="#c8c800" stroke="none"/>
<path d="M788 526h1v1h-1zM785 527h7v1h-7zM784 528h9v1h-9zM783 529h11v1h-11zM783 530h11v1h-11zM783 531h11v1h-11zM783 532h11v1h-11zM783 533h11v1h-11zM783 534h11v1h-11zM783 535h11v1h-11zM784 536h9v1h-9zM785 537h7v1h-7zM788 538h1v1h-1z" fill="#c8c800" stroke="none"/>
<path d="M835 527h1v1h-1zM832 528h7v1h-7zM831 529h9v1h-9zM830 530h11v1h-11zM830 531h11v1h-11zM830 532h11v1h-11zM830 533h11v1h-11zM830 534h11v1h-11zM830 535h11v1h-11zM830 536h11v1h-11zM831 537h9v1h-9zM832 538h7v1h-7zM835 539h1v1h-1z" fill="#c8c800" stroke="none"/>
<path d="M841 525h1v1h-1zM838 526h7v1h-7zM837 527h9v1h-9zM836 528h11v1h-11zM836 529h11v1h-11zM836 530h11v1h-11zM836 531h11v1h-11zM836 532h11v1h-11zM836 533h11v1h-11zM836 534h11v1h-11zM837 535h9v1h-9zM838 536h7v1h-7zM841 537h1v1h-1z" fill="#c8c800" stroke="none"/>
<path d="M887 527h1v1h-1zM884 528h7v1h-7zM883 529h9v1h-9zM882 530h11v1h-11zM882 531h11v1h-11zM882 532h11v1h-11zM882 533h11v1h-11zM882 534h11v1h-11zM882 535h11v1h-11zM882 536h11v1h-11zM883 537h9v1h-9zM884 538h7v1h-7zM887 539h1v1h-1z" fill="#c8c800" stroke="none"/>
<path d="M893 525h1v1h-1zM890 526h7v1h-7zM889 527h9v1h-9zM888 528h11v1h-11zM888 529h11v1h-11zM888 530h11v1h-11zM888 531h11v1h-11zM888 532h11v1h-11zM888 533h11v1h-11zM888 534h11v1h-11zM889 535h9v1h-9zM890 536h7v1h-7zM893 537h1v1h-1z" fill="#c8c800" stroke="none"/>
<path d="M940 527h1v1h-1zM937 528h7v1h-7zM936 529h9v1h-9zM935 530h11v1h-11zM935 531h11v1h-11zM935 532h11v1h-11zM935 533h11v1h-11zM935 534h11v1h-11zM935 535h11v1h-11zM935 536h11v1h-11zM936 537h9v1h-9zM937 538h7v1h-7zM940 539h1v1h-1z" fill="#c8c800" stroke="none"/>
<path d="M946 528h1v1h-1zM943 529h7v1h-7zM942 530h9v1h-9zM941 531h11v1h-11zM941 532h11v1h-11zM941 533h11v1h-11zM941 534h11v1h-11zM941 535h11v1h-11zM941 536h11v1h-11zM941 537h11v1h-11zM942 538h9v1h-9zM943 539h7v1h-7zM946 540h1v1h-1z" fill="#c8c800" stroke="none"/>
<path d="M992 522h1v1h-1zM989 523h7v1h-7zM988 524h9v1h-9zM987 525h11v1h-11zM987 526h11v1h-11zM987 527h11v1h-11zM987 528h11v1h-11zM987 529h11v1h-11zM987 530h11v1h-11zM987 531h11v1h-11zM988 532h9v1h-9zM989 533h7v1h-7zM992 534h1v1h-1z" fill="#c8c800" stroke="none"/>
<path d="M998 524h1v1h-1zM995 525h7v1h-7zM994 526h9v1h-9zM993 527h11v1h-11zM993 528h11v1h-11zM993 529h11v1h-11zM993 530h11v1h-11zM993 531h11v1h-11zM993 532h11v1h-11zM993 533h11v1h-11zM994 534h9v1h-9zM995 535h7v1h-7zM998 536h1v1h-1z" fill="#c8c800" stroke="none"/>
<path d="M1045 527h1v1h-1zM1042 528h7v1h-7zM1041 529h9v1h-9zM1040 530h11v1h-11zM1040 531h11v1h-11zM1040 532h11v1h-11zM1040 533h11v1h-11zM1040 534h11v1h-11zM1040 535h11v1h-11zM1040 536h11v1h-11zM1041 537h9v1h-9zM1042 538h7v1h-7zM1045 539h1v1h-1z" fill="#c8c800" stroke="none"/>
<path d="M1052 527h1v1h-1zM1049 528h7v1h-7zM1048 529h9v1h-9zM1047 530h11v1h-11zM1047 531h11v1h-11zM1047 532h11v1h-11zM1047 533h11v1h-11zM1047 534h11v1h-11zM1047 535h11v1h-11zM1047 536h11v1h-11zM1048 537h9v1h-9zM1049 538h7v1h-7zM1052 539h1v1h-1z" fill="#c8c800" stroke="none"/>
<path d="M1098 527h1v1h-1zM1095 528h7v1h-7zM1094 529h9v1h-9zM1093 530h11v1h-11zM1093 531h11v1h-11zM1093 532h11v1h-11zM1093 533h11v1h-11zM1093 534h11v1h-11zM1093 535h11v1h-11zM1093 536h11v1h-11zM1094 537h9v1h-9zM1095 538h7v1h-7zM1098 539h1v1h-1z" fill="#c8c800" stroke="none"/>
<path d="M1104 527h1v1h-1zM1101 528h7v1h-7zM1100 529h9v1h-9zM1099 530h11v1h-11zM1099 531h11v1h-11zM1099 532h11v1h-11zM1099 533h11v1h-11zM1099 534h11v1h-11zM1099 535h11v1h-11zM1099 536h11v1h-11zM1100 537h9v1h-9zM1101 538h7v1h-7zM1104 539h1v1h-1z" fill="#c8c800" stroke="none"/>
<path d="M1151 526h1v1h-1zM1148 527h7v1h-7zM1147 528h9v1h-9zM1146 529h11v1h-11zM1146 530h11v1h-11zM1146 531h11v1h-11zM1146 532h11v1h-11zM1146 533h11v1h-11zM1146 534h11v1h-11zM1146 535h11v1h-11zM1147 536h9v1h-9zM1148 537h7v1h-7zM1151 538h1v1h-1z" fill="#c8c800" stroke="none"/>
<path d="M1157 525h1v1h-1zM1154 526h7v1h-7zM1153 527h9v1h-9zM1152 528h11v1h-11zM1152 529h11v1h-11zM1152 530h11v1h-11zM1152 531h11v1h-11zM1152 532h11v1h-11zM1152 533h11v1h-11zM1152 534h11v1h-11zM1153 535h9v1h-9zM1154 536h7v1h-7zM1157 537h1v1h-1z" fill="#c8c800" stroke="none"/>
<path d="M1203 527h1v1h-1zM1200 528h7v1h-7zM1199 529h9v1h-9zM1198 530h11v1h-11zM1198 531h11v1h-11zM1198 532h11v1h-11zM1198 533h11v1h-11zM1198 534h11v1h-11zM1198 535h11v1h-11zM1198 536h11v1h-11zM1199 537h9v1h-9zM1200 538h7v1h-7zM1203 539h1v1h-1z" fill="#c8c800" stroke="none"/>
<path d="M1210 525h1v1h-1zM1207 526h7v1h-7zM1206 527h9v1h-9zM1205 528h11v1h-11zM1205 529h11v1h-11zM1205 530h11v1h-11zM1205 531h11v1h-11zM1205 532h11v1h-11zM1205 533h11v1h-11zM1205 534h11v1h-11zM1206 535h9v1h-9zM1207 536h7v1h-7zM1210 537h1v1h-1z" fill="#c8c800" stroke="none"/>
<path d="M1256 527h1v1h-1zM1253 528h7v1h-7zM1252 529h9v1h-9zM1251 530h11v1h-11zM1251 531h11v1h-11zM1251 532h11v1h-11zM1251 533h11v1h-11zM1251 534h11v1h-11zM1251 535h11v1h-11zM1251 536h11v1h-11zM1252 537h9v1h-9zM1253 538h7v1h-7zM1256 539h1v1h-1z" fill="#c8c800" stroke="none"/>
<path d="M1262 525h1v1h-1zM1259 526h7v1h-7zM1258 527h9v1h-9zM1257 528h11v1h-11zM1257 529h11v1h-11zM1257 530h11v1h-11zM1257 531h11v1h-11zM1257 532h11v1h-11zM1257 533h11v1h-11zM1257 534h11v1h-11zM1258 535h9v1h-9zM1259 536h7v1h-7zM1262 537h1v1h-1z" fill="#c8c800" stroke="none"/>
<path d="M1308 525h1v1h-1zM1305 526h7v1h-7zM1304 527h9v1h-9zM1303 528h11v1h-11zM1303 529h11v1h-11zM1303 530h11v1h-11zM1303 531h11v1h-11zM1303 532h11v1h-11zM1303 533h11v1h-11zM1303 534h11v1h-11zM1304 535h9v1h-9zM1305 536h7v1h-7zM1308 537h1v1h-1z" fill="#c8c800" stroke="none"/>
<path d="M1315 523h1v1h-1zM1312 524h7v1h-7zM1311 525h9v1h-9zM1310 526h11v1h-11zM1310 527h11v1h-11zM1310 528h11v1h-11zM1310 529h11v1h-11zM1310 530h11v1h-11zM1310 531h11v1h-11zM1310 532h11v1h-11zM1311 533h9v1h-9zM1312 534h7v1h-7zM1315 535h1v1h-1z" fill="#c8c800" stroke="none"/>
<path d="M1362 527h1v1h-1zM1359 528h7v1h-7zM1358 529h9v1h-9zM1357 530h11v1h-11zM1357 531h11v1h-11zM1357 532h11v1h-11zM1357 533h11v1h-11zM1357 534h11v1h-11zM1357 535h11v1h-11zM1357 536h11v1h-11zM1358 537h9v1h-9zM1359 538h7v1h-7zM1362 539h1v1h-1z" fill="#c8c800" stroke="none"/>
</g><g stroke-width="1" shape-rendering="crispEdges">
<path d="M302.5 456.5L310.5 468.5L294.5 468.5Z" fill="none" stroke="#4169e1"/>
<path d="M375.5 456.5L383.5 468.5L367.5 468.5Z" fill="none" stroke="#4169e1"/>
<path d="M425.5 456.5L433.5 468.5L417.5 468.5Z" fill="none" stroke="#4169e1"/>
<path d="M754.5 456.5L762.5 468.5L746.5 468.5Z" fill="none" stroke="#4169e1"/>
<path d="M904.5 456.5L912.5 468.5L896.5 468.5Z" fill="none" stroke="#4169e1"/>
<path d="M768.0 421.5h13M774.5 415.0v13" fill="none" stroke="#008040"/>
<path d="M774.0 421.5h13M780.5 415.0v13" fill="none" stroke="#008040"/>
<path d="M93 350H162L154 363H101Z" fill="#306080"/>
<path d="M198 350H1375L1367 363H207Z" fill="#306080"/>
<path d="M357 362h1v1h-1zM550 362h1v1h-1zM611 362h1v1h-1zM664 362h1v1h-1zM729 362h1v1h-1zM973 362h1v1h-1zM1049 362h1v1h-1zM1106 362h1v1h-1zM1165 362h1v1h-1zM1232 362h1v1h-1zM1303 362h1v1h-1z" fill="#fff"/>
<path d="M1288 72.5H1345" stroke="#ff0000"/><path d="M1288 91.5H1345" stroke="#00c000"/><path d="M1288 110.5H1345" stroke="#0080ff"/>
<rect x="1310.5" y="123.5" width="12" height="12" fill="none" stroke="#c000ff"/>
<rect x="1310.0" y="142.0" width="13" height="13" fill="#00eeee"/>
<path d="M1316 161h1v1h-1zM1313 162h7v1h-7zM1312 163h1v1h-1zM1320 163h1v1h-1zM1311 164h1v1h-1zM1321 164h1v1h-1zM1311 165h1v1h-1zM1321 165h1v1h-1zM1311 166h1v1h-1zM1321 166h1v1h-1zM1310 167h2v1h-2zM1321 167h2v1h-2zM1311 168h1v1h-1zM1321 168h1v1h-1zM1311 169h1v1h-1zM1321 169h1v1h-1zM1311 170h1v1h-1zM1321 170h1v1h-1zM1312 171h1v1h-1zM1320 171h1v1h-1zM1313 172h7v1h-7zM1316 173h1v1h-1z" fill="#c04000" stroke="none"/>
<path d="M1316 180h1v1h-1zM1313 181h7v1h-7zM1312 182h9v1h-9zM1311 183h11v1h-11zM1311 184h11v1h-11zM1311 185h11v1h-11zM1311 186h11v1h-11zM1311 187h11v1h-11zM1311 188h11v1h-11zM1311 189h11v1h-11zM1312 190h9v1h-9zM1313 191h7v1h-7zM1316 192h1v1h-1z" fill="#c8c800" stroke="none"/>
<path d="M1316.5 197.5L1324.5 209.5L1308.5 209.5Z" fill="none" stroke="#4169e1"/>
<path d="M1316.5 216.5L1324.5 228.5L1308.5 228.5Z" fill="#ffc020" stroke="#ffc020"/>
<path d="M1310.0 243.5h13M1316.5 237.0v13" fill="none" stroke="#008040"/>
<path d="M1316.5 270.5L1324.5 258.5L1308.5 258.5Z" fill="none" stroke="#c080ff"/>
<path d="M1316.5 289.5L1324.5 277.5L1308.5 277.5Z" fill="none" stroke="#306080"/>
</g>
<text x="1275" y="76" text-anchor="end">&quot;Ypingresult.txt&quot; using 1:2</text>
<text x="1275" y="95" text-anchor="end">&quot;YTimetcpping.txt&quot; using 1:2</text>
<text x="1275" y="114" text-anchor="end">&quot;YCustPingSiteTimes.txt&quot; using 1:2</text>
<text x="1275" y="133" text-anchor="end">&quot;Yofflineresult.txt&quot; using 1:2</text>
<text x="1275" y="152" text-anchor="end">&quot;Ytcpoff_record.txt&quot; using 1:2</text>
<text x="1275" y="171" text-anchor="end">&quot;Ycurltime.txt&quot; using 1:2</text>
<text x="1275" y="190" text-anchor="end">&quot;Ycurldnstime.txt&quot; using 1:2</text>
<text x="1275" y="209" text-anchor="end">&quot;YCustPingTimeout.txt&quot; using 1:2</text>
<text x="1275" y="228" text-anchor="end">&quot;Ypingtargetchange&quot; using 1:2</text>
<text x="1275" y="247" text-anchor="end">&quot;YHPpingresult.txt&quot; using 1:2</text>
<text x="1275" y="266" text-anchor="end">&quot;YpingtargetISrouter&quot; using 1:2</text>
<text x="1275" y="285" text-anchor="end">&quot;Ynoipv6&quot; using 1:2</text>
<rect x="101.5" y="57.5" width="1265" height="482" fill="none" stroke="#000" shape-rendering="crispEdges"/>
</svg></body></html>
